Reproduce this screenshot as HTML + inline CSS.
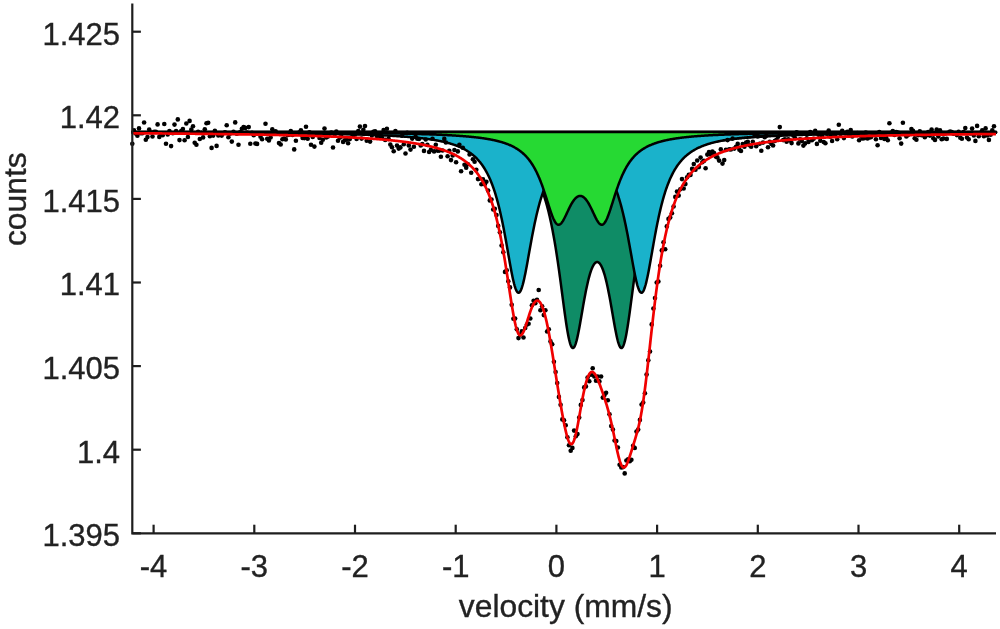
<!DOCTYPE html>
<html><head><meta charset="utf-8"><title>Mössbauer spectrum</title>
<style>
html,body{margin:0;padding:0;background:#fff;}
svg{display:block;}
text{font-family:"Liberation Sans",Arial,Helvetica,sans-serif;fill:#222;stroke:#222;stroke-width:0.35px;}
</style></head><body>
<svg width="1000" height="629" viewBox="0 0 1000 629">
<rect width="1000" height="629" fill="#fff"/>
<g><polygon points="132.30,131.90 132.30,132.47 132.80,132.47 133.30,132.47 133.80,132.47 134.30,132.47 134.80,132.47 135.30,132.47 135.80,132.47 136.30,132.48 136.80,132.48 137.30,132.48 137.80,132.48 138.30,132.48 138.80,132.48 139.30,132.48 139.80,132.48 140.30,132.49 140.80,132.49 141.30,132.49 141.80,132.49 142.30,132.49 142.80,132.49 143.30,132.49 143.80,132.49 144.30,132.50 144.80,132.50 145.30,132.50 145.80,132.50 146.30,132.50 146.79,132.50 147.29,132.50 147.79,132.51 148.29,132.51 148.79,132.51 149.29,132.51 149.79,132.51 150.29,132.51 150.79,132.51 151.29,132.51 151.79,132.52 152.29,132.52 152.79,132.52 153.29,132.52 153.79,132.52 154.29,132.52 154.79,132.52 155.29,132.53 155.79,132.53 156.29,132.53 156.79,132.53 157.29,132.53 157.79,132.53 158.29,132.53 158.79,132.54 159.29,132.54 159.79,132.54 160.29,132.54 160.79,132.54 161.29,132.54 161.79,132.55 162.29,132.55 162.79,132.55 163.29,132.55 163.79,132.55 164.29,132.55 164.79,132.55 165.29,132.56 165.79,132.56 166.29,132.56 166.79,132.56 167.29,132.56 167.79,132.56 168.29,132.57 168.79,132.57 169.29,132.57 169.79,132.57 170.29,132.57 170.79,132.57 171.29,132.57 171.79,132.58 172.29,132.58 172.79,132.58 173.29,132.58 173.79,132.58 174.29,132.58 174.79,132.59 175.29,132.59 175.78,132.59 176.28,132.59 176.78,132.59 177.28,132.59 177.78,132.60 178.28,132.60 178.78,132.60 179.28,132.60 179.78,132.60 180.28,132.60 180.78,132.61 181.28,132.61 181.78,132.61 182.28,132.61 182.78,132.61 183.28,132.61 183.78,132.62 184.28,132.62 184.78,132.62 185.28,132.62 185.78,132.62 186.28,132.63 186.78,132.63 187.28,132.63 187.78,132.63 188.28,132.63 188.78,132.63 189.28,132.64 189.78,132.64 190.28,132.64 190.78,132.64 191.28,132.64 191.78,132.65 192.28,132.65 192.78,132.65 193.28,132.65 193.78,132.65 194.28,132.65 194.78,132.66 195.28,132.66 195.78,132.66 196.28,132.66 196.78,132.66 197.28,132.67 197.78,132.67 198.28,132.67 198.78,132.67 199.28,132.67 199.78,132.68 200.28,132.68 200.78,132.68 201.28,132.68 201.78,132.68 202.28,132.69 202.78,132.69 203.28,132.69 203.78,132.69 204.27,132.69 204.77,132.70 205.27,132.70 205.77,132.70 206.27,132.70 206.77,132.70 207.27,132.71 207.77,132.71 208.27,132.71 208.77,132.71 209.27,132.71 209.77,132.72 210.27,132.72 210.77,132.72 211.27,132.72 211.77,132.73 212.27,132.73 212.77,132.73 213.27,132.73 213.77,132.73 214.27,132.74 214.77,132.74 215.27,132.74 215.77,132.74 216.27,132.75 216.77,132.75 217.27,132.75 217.77,132.75 218.27,132.75 218.77,132.76 219.27,132.76 219.77,132.76 220.27,132.76 220.77,132.77 221.27,132.77 221.77,132.77 222.27,132.77 222.77,132.78 223.27,132.78 223.77,132.78 224.27,132.78 224.77,132.78 225.27,132.79 225.77,132.79 226.27,132.79 226.77,132.79 227.27,132.80 227.77,132.80 228.27,132.80 228.77,132.80 229.27,132.81 229.77,132.81 230.27,132.81 230.77,132.81 231.27,132.82 231.77,132.82 232.27,132.82 232.77,132.82 233.26,132.83 233.76,132.83 234.26,132.83 234.76,132.83 235.26,132.84 235.76,132.84 236.26,132.84 236.76,132.85 237.26,132.85 237.76,132.85 238.26,132.85 238.76,132.86 239.26,132.86 239.76,132.86 240.26,132.86 240.76,132.87 241.26,132.87 241.76,132.87 242.26,132.87 242.76,132.88 243.26,132.88 243.76,132.88 244.26,132.89 244.76,132.89 245.26,132.89 245.76,132.89 246.26,132.90 246.76,132.90 247.26,132.90 247.76,132.91 248.26,132.91 248.76,132.91 249.26,132.92 249.76,132.92 250.26,132.92 250.76,132.92 251.26,132.93 251.76,132.93 252.26,132.93 252.76,132.94 253.26,132.94 253.76,132.94 254.26,132.95 254.76,132.95 255.26,132.95 255.76,132.95 256.26,132.96 256.76,132.96 257.26,132.96 257.76,132.97 258.26,132.97 258.76,132.97 259.26,132.98 259.76,132.98 260.26,132.98 260.76,132.99 261.26,132.99 261.76,132.99 262.25,133.00 262.75,133.00 263.25,133.00 263.75,133.01 264.25,133.01 264.75,133.01 265.25,133.02 265.75,133.02 266.25,133.02 266.75,133.03 267.25,133.03 267.75,133.03 268.25,133.04 268.75,133.04 269.25,133.04 269.75,133.05 270.25,133.05 270.75,133.06 271.25,133.06 271.75,133.06 272.25,133.07 272.75,133.07 273.25,133.07 273.75,133.08 274.25,133.08 274.75,133.08 275.25,133.09 275.75,133.09 276.25,133.10 276.75,133.10 277.25,133.10 277.75,133.11 278.25,133.11 278.75,133.11 279.25,133.12 279.75,133.12 280.25,133.13 280.75,133.13 281.25,133.13 281.75,133.14 282.25,133.14 282.75,133.15 283.25,133.15 283.75,133.15 284.25,133.16 284.75,133.16 285.25,133.17 285.75,133.17 286.25,133.18 286.75,133.18 287.25,133.18 287.75,133.19 288.25,133.19 288.75,133.20 289.25,133.20 289.75,133.20 290.25,133.21 290.74,133.21 291.24,133.22 291.74,133.22 292.24,133.23 292.74,133.23 293.24,133.24 293.74,133.24 294.24,133.24 294.74,133.25 295.24,133.25 295.74,133.26 296.24,133.26 296.74,133.27 297.24,133.27 297.74,133.28 298.24,133.28 298.74,133.29 299.24,133.29 299.74,133.30 300.24,133.30 300.74,133.30 301.24,133.31 301.74,133.31 302.24,133.32 302.74,133.32 303.24,133.33 303.74,133.33 304.24,133.34 304.74,133.34 305.24,133.35 305.74,133.35 306.24,133.36 306.74,133.36 307.24,133.37 307.74,133.37 308.24,133.38 308.74,133.39 309.24,133.39 309.74,133.40 310.24,133.40 310.74,133.41 311.24,133.41 311.74,133.42 312.24,133.42 312.74,133.43 313.24,133.43 313.74,133.44 314.24,133.44 314.74,133.45 315.24,133.46 315.74,133.46 316.24,133.47 316.74,133.47 317.24,133.48 317.74,133.48 318.24,133.49 318.74,133.50 319.24,133.50 319.73,133.51 320.23,133.51 320.73,133.52 321.23,133.53 321.73,133.53 322.23,133.54 322.73,133.54 323.23,133.55 323.73,133.56 324.23,133.56 324.73,133.57 325.23,133.57 325.73,133.58 326.23,133.59 326.73,133.59 327.23,133.60 327.73,133.61 328.23,133.61 328.73,133.62 329.23,133.63 329.73,133.63 330.23,133.64 330.73,133.65 331.23,133.65 331.73,133.66 332.23,133.67 332.73,133.67 333.23,133.68 333.73,133.69 334.23,133.69 334.73,133.70 335.23,133.71 335.73,133.72 336.23,133.72 336.73,133.73 337.23,133.74 337.73,133.74 338.23,133.75 338.73,133.76 339.23,133.77 339.73,133.77 340.23,133.78 340.73,133.79 341.23,133.80 341.73,133.80 342.23,133.81 342.73,133.82 343.23,133.83 343.73,133.83 344.23,133.84 344.73,133.85 345.23,133.86 345.73,133.87 346.23,133.87 346.73,133.88 347.23,133.89 347.73,133.90 348.23,133.91 348.72,133.91 349.22,133.92 349.72,133.93 350.22,133.94 350.72,133.95 351.22,133.96 351.72,133.97 352.22,133.97 352.72,133.98 353.22,133.99 353.72,134.00 354.22,134.01 354.72,134.02 355.22,134.03 355.72,134.04 356.22,134.05 356.72,134.05 357.22,134.06 357.72,134.07 358.22,134.08 358.72,134.09 359.22,134.10 359.72,134.11 360.22,134.12 360.72,134.13 361.22,134.14 361.72,134.15 362.22,134.16 362.72,134.17 363.22,134.18 363.72,134.19 364.22,134.20 364.72,134.21 365.22,134.22 365.72,134.23 366.22,134.24 366.72,134.25 367.22,134.26 367.72,134.27 368.22,134.28 368.72,134.29 369.22,134.30 369.72,134.32 370.22,134.33 370.72,134.34 371.22,134.35 371.72,134.36 372.22,134.37 372.72,134.38 373.22,134.39 373.72,134.41 374.22,134.42 374.72,134.43 375.22,134.44 375.72,134.45 376.22,134.46 376.72,134.48 377.21,134.49 377.71,134.50 378.21,134.51 378.71,134.52 379.21,134.54 379.71,134.55 380.21,134.56 380.71,134.57 381.21,134.59 381.71,134.60 382.21,134.61 382.71,134.63 383.21,134.64 383.71,134.65 384.21,134.67 384.71,134.68 385.21,134.69 385.71,134.71 386.21,134.72 386.71,134.73 387.21,134.75 387.71,134.76 388.21,134.78 388.71,134.79 389.21,134.81 389.71,134.82 390.21,134.83 390.71,134.85 391.21,134.86 391.71,134.88 392.21,134.89 392.71,134.91 393.21,134.92 393.71,134.94 394.21,134.96 394.71,134.97 395.21,134.99 395.71,135.00 396.21,135.02 396.71,135.04 397.21,135.05 397.71,135.07 398.21,135.08 398.71,135.10 399.21,135.12 399.71,135.14 400.21,135.15 400.71,135.17 401.21,135.19 401.71,135.20 402.21,135.22 402.71,135.24 403.21,135.26 403.71,135.28 404.21,135.29 404.71,135.31 405.21,135.33 405.71,135.35 406.20,135.37 406.70,135.39 407.20,135.41 407.70,135.43 408.20,135.45 408.70,135.46 409.20,135.48 409.70,135.50 410.20,135.52 410.70,135.54 411.20,135.57 411.70,135.59 412.20,135.61 412.70,135.63 413.20,135.65 413.70,135.67 414.20,135.69 414.70,135.71 415.20,135.74 415.70,135.76 416.20,135.78 416.70,135.80 417.20,135.83 417.70,135.85 418.20,135.87 418.70,135.89 419.20,135.92 419.70,135.94 420.20,135.97 420.70,135.99 421.20,136.01 421.70,136.04 422.20,136.06 422.70,136.09 423.20,136.11 423.70,136.14 424.20,136.17 424.70,136.19 425.20,136.22 425.70,136.24 426.20,136.27 426.70,136.30 427.20,136.32 427.70,136.35 428.20,136.38 428.70,136.41 429.20,136.44 429.70,136.46 430.20,136.49 430.70,136.52 431.20,136.55 431.70,136.58 432.20,136.61 432.70,136.64 433.20,136.67 433.70,136.70 434.20,136.73 434.69,136.77 435.19,136.80 435.69,136.83 436.19,136.86 436.69,136.89 437.19,136.93 437.69,136.96 438.19,136.99 438.69,137.03 439.19,137.06 439.69,137.10 440.19,137.13 440.69,137.17 441.19,137.20 441.69,137.24 442.19,137.28 442.69,137.31 443.19,137.35 443.69,137.39 444.19,137.43 444.69,137.47 445.19,137.51 445.69,137.54 446.19,137.58 446.69,137.62 447.19,137.67 447.69,137.71 448.19,137.75 448.69,137.79 449.19,137.83 449.69,137.88 450.19,137.92 450.69,137.96 451.19,138.01 451.69,138.05 452.19,138.10 452.69,138.14 453.19,138.19 453.69,138.24 454.19,138.28 454.69,138.33 455.19,138.38 455.69,138.43 456.19,138.48 456.69,138.53 457.19,138.58 457.69,138.63 458.19,138.68 458.69,138.74 459.19,138.79 459.69,138.84 460.19,138.90 460.69,138.95 461.19,139.01 461.69,139.07 462.19,139.12 462.69,139.18 463.19,139.24 463.68,139.30 464.18,139.36 464.68,139.42 465.18,139.48 465.68,139.55 466.18,139.61 466.68,139.67 467.18,139.74 467.68,139.80 468.18,139.87 468.68,139.94 469.18,140.01 469.68,140.08 470.18,140.15 470.68,140.22 471.18,140.29 471.68,140.36 472.18,140.44 472.68,140.51 473.18,140.59 473.68,140.66 474.18,140.74 474.68,140.82 475.18,140.90 475.68,140.98 476.18,141.06 476.68,141.15 477.18,141.23 477.68,141.32 478.18,141.41 478.68,141.49 479.18,141.58 479.68,141.67 480.18,141.77 480.68,141.86 481.18,141.95 481.68,142.05 482.18,142.15 482.68,142.25 483.18,142.35 483.68,142.45 484.18,142.55 484.68,142.66 485.18,142.77 485.68,142.87 486.18,142.98 486.68,143.10 487.18,143.21 487.68,143.33 488.18,143.44 488.68,143.56 489.18,143.68 489.68,143.80 490.18,143.93 490.68,144.06 491.18,144.18 491.68,144.32 492.17,144.45 492.67,144.58 493.17,144.72 493.67,144.86 494.17,145.00 494.67,145.15 495.17,145.29 495.67,145.44 496.17,145.59 496.67,145.75 497.17,145.91 497.67,146.07 498.17,146.23 498.67,146.39 499.17,146.56 499.67,146.73 500.17,146.91 500.67,147.09 501.17,147.27 501.67,147.45 502.17,147.64 502.67,147.83 503.17,148.03 503.67,148.22 504.17,148.43 504.67,148.63 505.17,148.84 505.67,149.06 506.17,149.27 506.67,149.50 507.17,149.72 507.67,149.95 508.17,150.19 508.67,150.43 509.17,150.68 509.67,150.93 510.17,151.18 510.67,151.44 511.17,151.71 511.67,151.98 512.17,152.26 512.67,152.54 513.17,152.83 513.67,153.12 514.17,153.43 514.67,153.73 515.17,154.05 515.67,154.37 516.17,154.70 516.67,155.04 517.17,155.38 517.67,155.73 518.17,156.09 518.67,156.46 519.17,156.84 519.67,157.22 520.17,157.61 520.67,158.02 521.16,158.43 521.66,158.85 522.16,159.29 522.66,159.73 523.16,160.19 523.66,160.65 524.16,161.13 524.66,161.62 525.16,162.12 525.66,162.64 526.16,163.17 526.66,163.71 527.16,164.26 527.66,164.83 528.16,165.42 528.66,166.02 529.16,166.64 529.66,167.27 530.16,167.92 530.66,168.59 531.16,169.28 531.66,169.99 532.16,170.71 532.66,171.46 533.16,172.23 533.66,173.02 534.16,173.83 534.66,174.67 535.16,175.53 535.66,176.42 536.16,177.33 536.66,178.27 537.16,179.24 537.66,180.24 538.16,181.27 538.66,182.33 539.16,183.42 539.66,184.55 540.16,185.71 540.66,186.91 541.16,188.14 541.66,189.42 542.16,190.74 542.66,192.09 543.16,193.50 543.66,194.95 544.16,196.44 544.66,197.98 545.16,199.58 545.66,201.22 546.16,202.92 546.66,204.68 547.16,206.49 547.66,208.37 548.16,210.30 548.66,212.30 549.16,214.36 549.66,216.49 550.15,218.69 550.65,220.96 551.15,223.30 551.65,225.72 552.15,228.21 552.65,230.78 553.15,233.43 553.65,236.16 554.15,238.97 554.65,241.85 555.15,244.82 555.65,247.88 556.15,251.01 556.65,254.22 557.15,257.51 557.65,260.87 558.15,264.31 558.65,267.81 559.15,271.38 559.65,275.01 560.15,278.69 560.65,282.42 561.15,286.18 561.65,289.97 562.15,293.77 562.65,297.57 563.15,301.37 563.65,305.14 564.15,308.86 564.65,312.53 565.15,316.12 565.65,319.62 566.15,323.00 566.65,326.25 567.15,329.34 567.65,332.25 568.15,334.97 568.65,337.48 569.15,339.75 569.65,341.78 570.15,343.54 570.65,345.02 571.15,346.22 571.65,347.12 572.15,347.73 572.65,348.03 573.15,348.04 573.65,347.75 574.15,347.17 574.65,346.32 575.15,345.19 575.65,343.82 576.15,342.21 576.65,340.38 577.15,338.35 577.65,336.15 578.15,333.79 578.64,331.29 579.14,328.67 579.64,325.97 580.14,323.18 580.64,320.34 581.14,317.47 581.64,314.57 582.14,311.67 582.64,308.78 583.14,305.91 583.64,303.08 584.14,300.30 584.64,297.58 585.14,294.93 585.64,292.35 586.14,289.86 586.64,287.45 587.14,285.14 587.64,282.92 588.14,280.81 588.64,278.80 589.14,276.90 589.64,275.12 590.14,273.44 590.64,271.87 591.14,270.42 591.64,269.09 592.14,267.86 592.64,266.76 593.14,265.77 593.64,264.90 594.14,264.14 594.64,263.50 595.14,262.97 595.64,262.56 596.14,262.27 596.64,262.09 597.14,262.03 597.64,262.08 598.14,262.25 598.64,262.53 599.14,262.93 599.64,263.45 600.14,264.08 600.64,264.83 601.14,265.70 601.64,266.68 602.14,267.77 602.64,268.98 603.14,270.31 603.64,271.75 604.14,273.31 604.64,274.98 605.14,276.76 605.64,278.65 606.14,280.65 606.64,282.75 607.14,284.96 607.63,287.26 608.13,289.66 608.63,292.15 609.13,294.72 609.63,297.37 610.13,300.09 610.63,302.86 611.13,305.69 611.63,308.55 612.13,311.44 612.63,314.34 613.13,317.24 613.63,320.12 614.13,322.96 614.63,325.75 615.13,328.46 615.63,331.09 616.13,333.59 616.63,335.97 617.13,338.19 617.63,340.23 618.13,342.07 618.63,343.70 619.13,345.09 619.63,346.24 620.13,347.11 620.63,347.71 621.13,348.03 621.63,348.05 622.13,347.76 622.63,347.18 623.13,346.30 623.63,345.13 624.13,343.66 624.63,341.93 625.13,339.92 625.63,337.67 626.13,335.18 626.63,332.48 627.13,329.58 627.63,326.50 628.13,323.27 628.63,319.89 629.13,316.41 629.63,312.82 630.13,309.16 630.63,305.43 631.13,301.67 631.63,297.87 632.13,294.07 632.63,290.27 633.13,286.48 633.63,282.71 634.13,278.99 634.63,275.30 635.13,271.67 635.63,268.09 636.12,264.58 636.62,261.14 637.12,257.77 637.62,254.48 638.12,251.26 638.62,248.12 639.12,245.06 639.62,242.09 640.12,239.19 640.62,236.38 641.12,233.64 641.62,230.99 642.12,228.41 642.62,225.91 643.12,223.49 643.62,221.14 644.12,218.87 644.62,216.66 645.12,214.53 645.62,212.46 646.12,210.46 646.62,208.52 647.12,206.64 647.62,204.82 648.12,203.06 648.62,201.36 649.12,199.71 649.62,198.11 650.12,196.56 650.62,195.06 651.12,193.61 651.62,192.20 652.12,190.84 652.62,189.52 653.12,188.24 653.62,187.00 654.12,185.80 654.62,184.64 655.12,183.51 655.62,182.41 656.12,181.35 656.62,180.32 657.12,179.32 657.62,178.35 658.12,177.40 658.62,176.49 659.12,175.60 659.62,174.74 660.12,173.90 660.62,173.08 661.12,172.29 661.62,171.52 662.12,170.77 662.62,170.04 663.12,169.33 663.62,168.65 664.12,167.98 664.62,167.32 665.11,166.69 665.61,166.07 666.11,165.47 666.61,164.88 667.11,164.31 667.61,163.75 668.11,163.21 668.61,162.68 669.11,162.16 669.61,161.66 670.11,161.17 670.61,160.69 671.11,160.22 671.61,159.77 672.11,159.32 672.61,158.89 673.11,158.46 673.61,158.05 674.11,157.65 674.61,157.25 675.11,156.87 675.61,156.49 676.11,156.12 676.61,155.76 677.11,155.41 677.61,155.06 678.11,154.73 678.61,154.40 679.11,154.07 679.61,153.76 680.11,153.45 680.61,153.15 681.11,152.85 681.61,152.56 682.11,152.28 682.61,152.00 683.11,151.73 683.61,151.46 684.11,151.20 684.61,150.95 685.11,150.69 685.61,150.45 686.11,150.21 686.61,149.97 687.11,149.74 687.61,149.51 688.11,149.29 688.61,149.07 689.11,148.86 689.61,148.65 690.11,148.44 690.61,148.24 691.11,148.04 691.61,147.85 692.11,147.65 692.61,147.47 693.11,147.28 693.61,147.10 694.10,146.92 694.60,146.75 695.10,146.58 695.60,146.41 696.10,146.24 696.60,146.08 697.10,145.92 697.60,145.76 698.10,145.61 698.60,145.45 699.10,145.31 699.60,145.16 700.10,145.01 700.60,144.87 701.10,144.73 701.60,144.59 702.10,144.46 702.60,144.33 703.10,144.19 703.60,144.07 704.10,143.94 704.60,143.81 705.10,143.69 705.60,143.57 706.10,143.45 706.60,143.33 707.10,143.22 707.60,143.11 708.10,142.99 708.60,142.88 709.10,142.77 709.60,142.67 710.10,142.56 710.60,142.46 711.10,142.36 711.60,142.26 712.10,142.16 712.60,142.06 713.10,141.96 713.60,141.87 714.10,141.77 714.60,141.68 715.10,141.59 715.60,141.50 716.10,141.41 716.60,141.33 717.10,141.24 717.60,141.15 718.10,141.07 718.60,140.99 719.10,140.91 719.60,140.83 720.10,140.75 720.60,140.67 721.10,140.59 721.60,140.52 722.10,140.44 722.59,140.37 723.09,140.29 723.59,140.22 724.09,140.15 724.59,140.08 725.09,140.01 725.59,139.94 726.09,139.88 726.59,139.81 727.09,139.74 727.59,139.68 728.09,139.61 728.59,139.55 729.09,139.49 729.59,139.43 730.09,139.37 730.59,139.31 731.09,139.25 731.59,139.19 732.09,139.13 732.59,139.07 733.09,139.02 733.59,138.96 734.09,138.90 734.59,138.85 735.09,138.80 735.59,138.74 736.09,138.69 736.59,138.64 737.09,138.59 737.59,138.53 738.09,138.48 738.59,138.43 739.09,138.38 739.59,138.34 740.09,138.29 740.59,138.24 741.09,138.19 741.59,138.15 742.09,138.10 742.59,138.06 743.09,138.01 743.59,137.97 744.09,137.92 744.59,137.88 745.09,137.84 745.59,137.79 746.09,137.75 746.59,137.71 747.09,137.67 747.59,137.63 748.09,137.59 748.59,137.55 749.09,137.51 749.59,137.47 750.09,137.43 750.59,137.39 751.09,137.35 751.58,137.32 752.08,137.28 752.58,137.24 753.08,137.21 753.58,137.17 754.08,137.14 754.58,137.10 755.08,137.07 755.58,137.03 756.08,137.00 756.58,136.96 757.08,136.93 757.58,136.90 758.08,136.86 758.58,136.83 759.08,136.80 759.58,136.77 760.08,136.74 760.58,136.71 761.08,136.67 761.58,136.64 762.08,136.61 762.58,136.58 763.08,136.55 763.58,136.52 764.08,136.50 764.58,136.47 765.08,136.44 765.58,136.41 766.08,136.38 766.58,136.35 767.08,136.33 767.58,136.30 768.08,136.27 768.58,136.25 769.08,136.22 769.58,136.19 770.08,136.17 770.58,136.14 771.08,136.12 771.58,136.09 772.08,136.07 772.58,136.04 773.08,136.02 773.58,135.99 774.08,135.97 774.58,135.94 775.08,135.92 775.58,135.90 776.08,135.87 776.58,135.85 777.08,135.83 777.58,135.80 778.08,135.78 778.58,135.76 779.08,135.74 779.58,135.72 780.07,135.69 780.57,135.67 781.07,135.65 781.57,135.63 782.07,135.61 782.57,135.59 783.07,135.57 783.57,135.55 784.07,135.53 784.57,135.51 785.07,135.49 785.57,135.47 786.07,135.45 786.57,135.43 787.07,135.41 787.57,135.39 788.07,135.37 788.57,135.35 789.07,135.33 789.57,135.31 790.07,135.30 790.57,135.28 791.07,135.26 791.57,135.24 792.07,135.22 792.57,135.21 793.07,135.19 793.57,135.17 794.07,135.15 794.57,135.14 795.07,135.12 795.57,135.10 796.07,135.09 796.57,135.07 797.07,135.05 797.57,135.04 798.07,135.02 798.57,135.00 799.07,134.99 799.57,134.97 800.07,134.96 800.57,134.94 801.07,134.93 801.57,134.91 802.07,134.90 802.57,134.88 803.07,134.87 803.57,134.85 804.07,134.84 804.57,134.82 805.07,134.81 805.57,134.79 806.07,134.78 806.57,134.76 807.07,134.75 807.57,134.74 808.07,134.72 808.57,134.71 809.06,134.69 809.56,134.68 810.06,134.67 810.56,134.65 811.06,134.64 811.56,134.63 812.06,134.61 812.56,134.60 813.06,134.59 813.56,134.58 814.06,134.56 814.56,134.55 815.06,134.54 815.56,134.53 816.06,134.51 816.56,134.50 817.06,134.49 817.56,134.48 818.06,134.46 818.56,134.45 819.06,134.44 819.56,134.43 820.06,134.42 820.56,134.41 821.06,134.39 821.56,134.38 822.06,134.37 822.56,134.36 823.06,134.35 823.56,134.34 824.06,134.33 824.56,134.32 825.06,134.31 825.56,134.29 826.06,134.28 826.56,134.27 827.06,134.26 827.56,134.25 828.06,134.24 828.56,134.23 829.06,134.22 829.56,134.21 830.06,134.20 830.56,134.19 831.06,134.18 831.56,134.17 832.06,134.16 832.56,134.15 833.06,134.14 833.56,134.13 834.06,134.12 834.56,134.11 835.06,134.10 835.56,134.09 836.06,134.08 836.56,134.07 837.06,134.06 837.56,134.06 838.05,134.05 838.55,134.04 839.05,134.03 839.55,134.02 840.05,134.01 840.55,134.00 841.05,133.99 841.55,133.98 842.05,133.97 842.55,133.97 843.05,133.96 843.55,133.95 844.05,133.94 844.55,133.93 845.05,133.92 845.55,133.92 846.05,133.91 846.55,133.90 847.05,133.89 847.55,133.88 848.05,133.87 848.55,133.87 849.05,133.86 849.55,133.85 850.05,133.84 850.55,133.83 851.05,133.83 851.55,133.82 852.05,133.81 852.55,133.80 853.05,133.80 853.55,133.79 854.05,133.78 854.55,133.77 855.05,133.77 855.55,133.76 856.05,133.75 856.55,133.74 857.05,133.74 857.55,133.73 858.05,133.72 858.55,133.72 859.05,133.71 859.55,133.70 860.05,133.69 860.55,133.69 861.05,133.68 861.55,133.67 862.05,133.67 862.55,133.66 863.05,133.65 863.55,133.65 864.05,133.64 864.55,133.63 865.05,133.63 865.55,133.62 866.05,133.61 866.54,133.61 867.04,133.60 867.54,133.59 868.04,133.59 868.54,133.58 869.04,133.58 869.54,133.57 870.04,133.56 870.54,133.56 871.04,133.55 871.54,133.54 872.04,133.54 872.54,133.53 873.04,133.53 873.54,133.52 874.04,133.51 874.54,133.51 875.04,133.50 875.54,133.50 876.04,133.49 876.54,133.48 877.04,133.48 877.54,133.47 878.04,133.47 878.54,133.46 879.04,133.46 879.54,133.45 880.04,133.45 880.54,133.44 881.04,133.43 881.54,133.43 882.04,133.42 882.54,133.42 883.04,133.41 883.54,133.41 884.04,133.40 884.54,133.40 885.04,133.39 885.54,133.39 886.04,133.38 886.54,133.38 887.04,133.37 887.54,133.37 888.04,133.36 888.54,133.35 889.04,133.35 889.54,133.34 890.04,133.34 890.54,133.33 891.04,133.33 891.54,133.32 892.04,133.32 892.54,133.32 893.04,133.31 893.54,133.31 894.04,133.30 894.54,133.30 895.04,133.29 895.53,133.29 896.03,133.28 896.53,133.28 897.03,133.27 897.53,133.27 898.03,133.26 898.53,133.26 899.03,133.25 899.53,133.25 900.03,133.24 900.53,133.24 901.03,133.24 901.53,133.23 902.03,133.23 902.53,133.22 903.03,133.22 903.53,133.21 904.03,133.21 904.53,133.21 905.03,133.20 905.53,133.20 906.03,133.19 906.53,133.19 907.03,133.18 907.53,133.18 908.03,133.18 908.53,133.17 909.03,133.17 909.53,133.16 910.03,133.16 910.53,133.15 911.03,133.15 911.53,133.15 912.03,133.14 912.53,133.14 913.03,133.13 913.53,133.13 914.03,133.13 914.53,133.12 915.03,133.12 915.53,133.12 916.03,133.11 916.53,133.11 917.03,133.10 917.53,133.10 918.03,133.10 918.53,133.09 919.03,133.09 919.53,133.08 920.03,133.08 920.53,133.08 921.03,133.07 921.53,133.07 922.03,133.07 922.53,133.06 923.03,133.06 923.53,133.06 924.02,133.05 924.52,133.05 925.02,133.04 925.52,133.04 926.02,133.04 926.52,133.03 927.02,133.03 927.52,133.03 928.02,133.02 928.52,133.02 929.02,133.02 929.52,133.01 930.02,133.01 930.52,133.01 931.02,133.00 931.52,133.00 932.02,133.00 932.52,132.99 933.02,132.99 933.52,132.99 934.02,132.98 934.52,132.98 935.02,132.98 935.52,132.97 936.02,132.97 936.52,132.97 937.02,132.96 937.52,132.96 938.02,132.96 938.52,132.95 939.02,132.95 939.52,132.95 940.02,132.95 940.52,132.94 941.02,132.94 941.52,132.94 942.02,132.93 942.52,132.93 943.02,132.93 943.52,132.92 944.02,132.92 944.52,132.92 945.02,132.92 945.52,132.91 946.02,132.91 946.52,132.91 947.02,132.90 947.52,132.90 948.02,132.90 948.52,132.89 949.02,132.89 949.52,132.89 950.02,132.89 950.52,132.88 951.02,132.88 951.52,132.88 952.02,132.88 952.52,132.87 953.01,132.87 953.51,132.87 954.01,132.86 954.51,132.86 955.01,132.86 955.51,132.86 956.01,132.85 956.51,132.85 957.01,132.85 957.51,132.85 958.01,132.84 958.51,132.84 959.01,132.84 959.51,132.83 960.01,132.83 960.51,132.83 961.01,132.83 961.51,132.82 962.01,132.82 962.51,132.82 963.01,132.82 963.51,132.81 964.01,132.81 964.51,132.81 965.01,132.81 965.51,132.80 966.01,132.80 966.51,132.80 967.01,132.80 967.51,132.79 968.01,132.79 968.51,132.79 969.01,132.79 969.51,132.78 970.01,132.78 970.51,132.78 971.01,132.78 971.51,132.78 972.01,132.77 972.51,132.77 973.01,132.77 973.51,132.77 974.01,132.76 974.51,132.76 975.01,132.76 975.51,132.76 976.01,132.75 976.51,132.75 977.01,132.75 977.51,132.75 978.01,132.75 978.51,132.74 979.01,132.74 979.51,132.74 980.01,132.74 980.51,132.73 981.01,132.73 981.51,132.73 982.00,132.73 982.50,132.73 983.00,132.72 983.50,132.72 984.00,132.72 984.50,132.72 985.00,132.71 985.50,132.71 986.00,132.71 986.50,132.71 987.00,132.71 987.50,132.70 988.00,132.70 988.50,132.70 989.00,132.70 989.50,132.70 990.00,132.69 990.50,132.69 991.00,132.69 991.50,132.69 992.00,132.69 992.50,132.68 993.00,132.68 993.50,132.68 994.00,132.68 994.50,132.68 995.00,132.67 995.50,132.67 996.00,132.67 996.00,131.90" fill="#0f8c66" stroke="#000" stroke-width="2.5" stroke-linejoin="round"/>
<polygon points="132.30,131.90 132.30,132.44 132.80,132.44 133.30,132.44 133.80,132.44 134.30,132.44 134.80,132.45 135.30,132.45 135.80,132.45 136.30,132.45 136.80,132.45 137.30,132.45 137.80,132.45 138.30,132.46 138.80,132.46 139.30,132.46 139.80,132.46 140.30,132.46 140.80,132.46 141.30,132.46 141.80,132.46 142.30,132.47 142.80,132.47 143.30,132.47 143.80,132.47 144.30,132.47 144.80,132.47 145.30,132.47 145.80,132.48 146.30,132.48 146.79,132.48 147.29,132.48 147.79,132.48 148.29,132.48 148.79,132.48 149.29,132.49 149.79,132.49 150.29,132.49 150.79,132.49 151.29,132.49 151.79,132.49 152.29,132.49 152.79,132.50 153.29,132.50 153.79,132.50 154.29,132.50 154.79,132.50 155.29,132.50 155.79,132.51 156.29,132.51 156.79,132.51 157.29,132.51 157.79,132.51 158.29,132.51 158.79,132.51 159.29,132.52 159.79,132.52 160.29,132.52 160.79,132.52 161.29,132.52 161.79,132.52 162.29,132.53 162.79,132.53 163.29,132.53 163.79,132.53 164.29,132.53 164.79,132.53 165.29,132.53 165.79,132.54 166.29,132.54 166.79,132.54 167.29,132.54 167.79,132.54 168.29,132.54 168.79,132.55 169.29,132.55 169.79,132.55 170.29,132.55 170.79,132.55 171.29,132.55 171.79,132.56 172.29,132.56 172.79,132.56 173.29,132.56 173.79,132.56 174.29,132.57 174.79,132.57 175.29,132.57 175.78,132.57 176.28,132.57 176.78,132.57 177.28,132.58 177.78,132.58 178.28,132.58 178.78,132.58 179.28,132.58 179.78,132.58 180.28,132.59 180.78,132.59 181.28,132.59 181.78,132.59 182.28,132.59 182.78,132.60 183.28,132.60 183.78,132.60 184.28,132.60 184.78,132.60 185.28,132.61 185.78,132.61 186.28,132.61 186.78,132.61 187.28,132.61 187.78,132.62 188.28,132.62 188.78,132.62 189.28,132.62 189.78,132.62 190.28,132.63 190.78,132.63 191.28,132.63 191.78,132.63 192.28,132.63 192.78,132.64 193.28,132.64 193.78,132.64 194.28,132.64 194.78,132.64 195.28,132.65 195.78,132.65 196.28,132.65 196.78,132.65 197.28,132.65 197.78,132.66 198.28,132.66 198.78,132.66 199.28,132.66 199.78,132.66 200.28,132.67 200.78,132.67 201.28,132.67 201.78,132.67 202.28,132.68 202.78,132.68 203.28,132.68 203.78,132.68 204.27,132.68 204.77,132.69 205.27,132.69 205.77,132.69 206.27,132.69 206.77,132.70 207.27,132.70 207.77,132.70 208.27,132.70 208.77,132.71 209.27,132.71 209.77,132.71 210.27,132.71 210.77,132.71 211.27,132.72 211.77,132.72 212.27,132.72 212.77,132.72 213.27,132.73 213.77,132.73 214.27,132.73 214.77,132.73 215.27,132.74 215.77,132.74 216.27,132.74 216.77,132.74 217.27,132.75 217.77,132.75 218.27,132.75 218.77,132.75 219.27,132.76 219.77,132.76 220.27,132.76 220.77,132.76 221.27,132.77 221.77,132.77 222.27,132.77 222.77,132.77 223.27,132.78 223.77,132.78 224.27,132.78 224.77,132.79 225.27,132.79 225.77,132.79 226.27,132.79 226.77,132.80 227.27,132.80 227.77,132.80 228.27,132.80 228.77,132.81 229.27,132.81 229.77,132.81 230.27,132.82 230.77,132.82 231.27,132.82 231.77,132.82 232.27,132.83 232.77,132.83 233.26,132.83 233.76,132.84 234.26,132.84 234.76,132.84 235.26,132.85 235.76,132.85 236.26,132.85 236.76,132.85 237.26,132.86 237.76,132.86 238.26,132.86 238.76,132.87 239.26,132.87 239.76,132.87 240.26,132.88 240.76,132.88 241.26,132.88 241.76,132.89 242.26,132.89 242.76,132.89 243.26,132.90 243.76,132.90 244.26,132.90 244.76,132.91 245.26,132.91 245.76,132.91 246.26,132.92 246.76,132.92 247.26,132.92 247.76,132.93 248.26,132.93 248.76,132.93 249.26,132.94 249.76,132.94 250.26,132.94 250.76,132.95 251.26,132.95 251.76,132.95 252.26,132.96 252.76,132.96 253.26,132.96 253.76,132.97 254.26,132.97 254.76,132.97 255.26,132.98 255.76,132.98 256.26,132.99 256.76,132.99 257.26,132.99 257.76,133.00 258.26,133.00 258.76,133.00 259.26,133.01 259.76,133.01 260.26,133.02 260.76,133.02 261.26,133.02 261.76,133.03 262.25,133.03 262.75,133.04 263.25,133.04 263.75,133.04 264.25,133.05 264.75,133.05 265.25,133.06 265.75,133.06 266.25,133.06 266.75,133.07 267.25,133.07 267.75,133.08 268.25,133.08 268.75,133.08 269.25,133.09 269.75,133.09 270.25,133.10 270.75,133.10 271.25,133.11 271.75,133.11 272.25,133.11 272.75,133.12 273.25,133.12 273.75,133.13 274.25,133.13 274.75,133.14 275.25,133.14 275.75,133.15 276.25,133.15 276.75,133.16 277.25,133.16 277.75,133.16 278.25,133.17 278.75,133.17 279.25,133.18 279.75,133.18 280.25,133.19 280.75,133.19 281.25,133.20 281.75,133.20 282.25,133.21 282.75,133.21 283.25,133.22 283.75,133.22 284.25,133.23 284.75,133.23 285.25,133.24 285.75,133.24 286.25,133.25 286.75,133.25 287.25,133.26 287.75,133.26 288.25,133.27 288.75,133.27 289.25,133.28 289.75,133.29 290.25,133.29 290.74,133.30 291.24,133.30 291.74,133.31 292.24,133.31 292.74,133.32 293.24,133.32 293.74,133.33 294.24,133.34 294.74,133.34 295.24,133.35 295.74,133.35 296.24,133.36 296.74,133.36 297.24,133.37 297.74,133.38 298.24,133.38 298.74,133.39 299.24,133.39 299.74,133.40 300.24,133.41 300.74,133.41 301.24,133.42 301.74,133.42 302.24,133.43 302.74,133.44 303.24,133.44 303.74,133.45 304.24,133.46 304.74,133.46 305.24,133.47 305.74,133.48 306.24,133.48 306.74,133.49 307.24,133.50 307.74,133.50 308.24,133.51 308.74,133.52 309.24,133.52 309.74,133.53 310.24,133.54 310.74,133.54 311.24,133.55 311.74,133.56 312.24,133.57 312.74,133.57 313.24,133.58 313.74,133.59 314.24,133.59 314.74,133.60 315.24,133.61 315.74,133.62 316.24,133.62 316.74,133.63 317.24,133.64 317.74,133.65 318.24,133.66 318.74,133.66 319.24,133.67 319.73,133.68 320.23,133.69 320.73,133.69 321.23,133.70 321.73,133.71 322.23,133.72 322.73,133.73 323.23,133.74 323.73,133.74 324.23,133.75 324.73,133.76 325.23,133.77 325.73,133.78 326.23,133.79 326.73,133.80 327.23,133.80 327.73,133.81 328.23,133.82 328.73,133.83 329.23,133.84 329.73,133.85 330.23,133.86 330.73,133.87 331.23,133.88 331.73,133.89 332.23,133.90 332.73,133.91 333.23,133.92 333.73,133.92 334.23,133.93 334.73,133.94 335.23,133.95 335.73,133.96 336.23,133.97 336.73,133.98 337.23,133.99 337.73,134.00 338.23,134.02 338.73,134.03 339.23,134.04 339.73,134.05 340.23,134.06 340.73,134.07 341.23,134.08 341.73,134.09 342.23,134.10 342.73,134.11 343.23,134.12 343.73,134.13 344.23,134.15 344.73,134.16 345.23,134.17 345.73,134.18 346.23,134.19 346.73,134.20 347.23,134.22 347.73,134.23 348.23,134.24 348.72,134.25 349.22,134.26 349.72,134.28 350.22,134.29 350.72,134.30 351.22,134.31 351.72,134.33 352.22,134.34 352.72,134.35 353.22,134.37 353.72,134.38 354.22,134.39 354.72,134.41 355.22,134.42 355.72,134.43 356.22,134.45 356.72,134.46 357.22,134.48 357.72,134.49 358.22,134.50 358.72,134.52 359.22,134.53 359.72,134.55 360.22,134.56 360.72,134.58 361.22,134.59 361.72,134.61 362.22,134.62 362.72,134.64 363.22,134.65 363.72,134.67 364.22,134.69 364.72,134.70 365.22,134.72 365.72,134.73 366.22,134.75 366.72,134.77 367.22,134.78 367.72,134.80 368.22,134.82 368.72,134.84 369.22,134.85 369.72,134.87 370.22,134.89 370.72,134.91 371.22,134.92 371.72,134.94 372.22,134.96 372.72,134.98 373.22,135.00 373.72,135.02 374.22,135.04 374.72,135.06 375.22,135.07 375.72,135.09 376.22,135.11 376.72,135.13 377.21,135.15 377.71,135.17 378.21,135.20 378.71,135.22 379.21,135.24 379.71,135.26 380.21,135.28 380.71,135.30 381.21,135.32 381.71,135.35 382.21,135.37 382.71,135.39 383.21,135.41 383.71,135.44 384.21,135.46 384.71,135.48 385.21,135.51 385.71,135.53 386.21,135.56 386.71,135.58 387.21,135.60 387.71,135.63 388.21,135.65 388.71,135.68 389.21,135.71 389.71,135.73 390.21,135.76 390.71,135.79 391.21,135.81 391.71,135.84 392.21,135.87 392.71,135.89 393.21,135.92 393.71,135.95 394.21,135.98 394.71,136.01 395.21,136.04 395.71,136.07 396.21,136.10 396.71,136.13 397.21,136.16 397.71,136.19 398.21,136.22 398.71,136.25 399.21,136.29 399.71,136.32 400.21,136.35 400.71,136.39 401.21,136.42 401.71,136.45 402.21,136.49 402.71,136.52 403.21,136.56 403.71,136.59 404.21,136.63 404.71,136.67 405.21,136.70 405.71,136.74 406.20,136.78 406.70,136.82 407.20,136.86 407.70,136.90 408.20,136.94 408.70,136.98 409.20,137.02 409.70,137.06 410.20,137.10 410.70,137.14 411.20,137.19 411.70,137.23 412.20,137.27 412.70,137.32 413.20,137.36 413.70,137.41 414.20,137.46 414.70,137.50 415.20,137.55 415.70,137.60 416.20,137.65 416.70,137.70 417.20,137.75 417.70,137.80 418.20,137.85 418.70,137.91 419.20,137.96 419.70,138.01 420.20,138.07 420.70,138.12 421.20,138.18 421.70,138.24 422.20,138.29 422.70,138.35 423.20,138.41 423.70,138.47 424.20,138.53 424.70,138.60 425.20,138.66 425.70,138.72 426.20,138.79 426.70,138.85 427.20,138.92 427.70,138.99 428.20,139.06 428.70,139.13 429.20,139.20 429.70,139.27 430.20,139.34 430.70,139.42 431.20,139.49 431.70,139.57 432.20,139.65 432.70,139.73 433.20,139.81 433.70,139.89 434.20,139.97 434.69,140.06 435.19,140.14 435.69,140.23 436.19,140.32 436.69,140.41 437.19,140.50 437.69,140.60 438.19,140.69 438.69,140.79 439.19,140.89 439.69,140.99 440.19,141.09 440.69,141.19 441.19,141.30 441.69,141.40 442.19,141.51 442.69,141.62 443.19,141.73 443.69,141.85 444.19,141.97 444.69,142.08 445.19,142.21 445.69,142.33 446.19,142.45 446.69,142.58 447.19,142.71 447.69,142.85 448.19,142.98 448.69,143.12 449.19,143.26 449.69,143.40 450.19,143.55 450.69,143.70 451.19,143.85 451.69,144.01 452.19,144.16 452.69,144.33 453.19,144.49 453.69,144.66 454.19,144.83 454.69,145.00 455.19,145.18 455.69,145.37 456.19,145.55 456.69,145.74 457.19,145.94 457.69,146.13 458.19,146.34 458.69,146.54 459.19,146.76 459.69,146.97 460.19,147.19 460.69,147.42 461.19,147.65 461.69,147.89 462.19,148.13 462.69,148.38 463.19,148.63 463.68,148.89 464.18,149.15 464.68,149.43 465.18,149.70 465.68,149.99 466.18,150.28 466.68,150.58 467.18,150.89 467.68,151.20 468.18,151.52 468.68,151.85 469.18,152.19 469.68,152.53 470.18,152.89 470.68,153.25 471.18,153.63 471.68,154.01 472.18,154.41 472.68,154.81 473.18,155.23 473.68,155.65 474.18,156.09 474.68,156.54 475.18,157.00 475.68,157.48 476.18,157.97 476.68,158.47 477.18,158.98 477.68,159.52 478.18,160.06 478.68,160.62 479.18,161.20 479.68,161.80 480.18,162.41 480.68,163.04 481.18,163.69 481.68,164.36 482.18,165.05 482.68,165.77 483.18,166.50 483.68,167.26 484.18,168.03 484.68,168.84 485.18,169.67 485.68,170.52 486.18,171.40 486.68,172.31 487.18,173.25 487.68,174.22 488.18,175.22 488.68,176.26 489.18,177.32 489.68,178.43 490.18,179.56 490.68,180.74 491.18,181.95 491.68,183.21 492.17,184.50 492.67,185.84 493.17,187.22 493.67,188.65 494.17,190.13 494.67,191.65 495.17,193.22 495.67,194.85 496.17,196.52 496.67,198.25 497.17,200.04 497.67,201.88 498.17,203.78 498.67,205.74 499.17,207.76 499.67,209.83 500.17,211.97 500.67,214.17 501.17,216.43 501.67,218.75 502.17,221.12 502.67,223.56 503.17,226.06 503.67,228.61 504.17,231.21 504.67,233.87 505.17,236.57 505.67,239.31 506.17,242.09 506.67,244.90 507.17,247.73 507.67,250.58 508.17,253.44 508.67,256.30 509.17,259.14 509.67,261.96 510.17,264.75 510.67,267.48 511.17,270.16 511.67,272.75 512.17,275.26 512.67,277.65 513.17,279.93 513.67,282.06 514.17,284.04 514.67,285.85 515.17,287.48 515.67,288.91 516.17,290.13 516.67,291.13 517.17,291.90 517.67,292.44 518.17,292.75 518.67,292.81 519.17,292.63 519.67,292.20 520.17,291.55 520.67,290.66 521.16,289.55 521.66,288.24 522.16,286.72 522.66,285.01 523.16,283.13 523.66,281.09 524.16,278.91 524.66,276.60 525.16,274.18 525.66,271.66 526.16,269.06 526.66,266.40 527.16,263.68 527.66,260.92 528.16,258.13 528.66,255.33 529.16,252.53 529.66,249.73 530.16,246.95 530.66,244.19 531.16,241.45 531.66,238.76 532.16,236.10 532.66,233.49 533.16,230.93 533.66,228.42 534.16,225.97 534.66,223.57 535.16,221.23 535.66,218.95 536.16,216.74 536.66,214.58 537.16,212.49 537.66,210.45 538.16,208.48 538.66,206.57 539.16,204.71 539.66,202.92 540.16,201.18 540.66,199.49 541.16,197.87 541.66,196.29 542.16,194.77 542.66,193.30 543.16,191.87 543.66,190.50 544.16,189.17 544.66,187.89 545.16,186.65 545.66,185.45 546.16,184.29 546.66,183.18 547.16,182.10 547.66,181.06 548.16,180.06 548.66,179.09 549.16,178.15 549.66,177.25 550.15,176.37 550.65,175.53 551.15,174.72 551.65,173.93 552.15,173.18 552.65,172.44 553.15,171.74 553.65,171.06 554.15,170.40 554.65,169.77 555.15,169.16 555.65,168.57 556.15,168.00 556.65,167.45 557.15,166.92 557.65,166.41 558.15,165.92 558.65,165.44 559.15,164.99 559.65,164.55 560.15,164.12 560.65,163.72 561.15,163.32 561.65,162.95 562.15,162.58 562.65,162.23 563.15,161.90 563.65,161.58 564.15,161.27 564.65,160.97 565.15,160.69 565.65,160.41 566.15,160.15 566.65,159.90 567.15,159.67 567.65,159.44 568.15,159.22 568.65,159.02 569.15,158.82 569.65,158.64 570.15,158.46 570.65,158.29 571.15,158.14 571.65,157.99 572.15,157.85 572.65,157.73 573.15,157.61 573.65,157.50 574.15,157.40 574.65,157.30 575.15,157.22 575.65,157.14 576.15,157.07 576.65,157.02 577.15,156.97 577.65,156.92 578.15,156.89 578.64,156.86 579.14,156.84 579.64,156.84 580.14,156.83 580.64,156.84 581.14,156.85 581.64,156.88 582.14,156.91 582.64,156.95 583.14,157.00 583.64,157.05 584.14,157.12 584.64,157.19 585.14,157.27 585.64,157.36 586.14,157.46 586.64,157.56 587.14,157.68 587.64,157.81 588.14,157.94 588.64,158.08 589.14,158.23 589.64,158.40 590.14,158.57 590.64,158.75 591.14,158.94 591.64,159.14 592.14,159.36 592.64,159.58 593.14,159.81 593.64,160.06 594.14,160.31 594.64,160.58 595.14,160.86 595.64,161.15 596.14,161.46 596.64,161.77 597.14,162.10 597.64,162.45 598.14,162.81 598.64,163.18 599.14,163.57 599.64,163.97 600.14,164.39 600.64,164.82 601.14,165.27 601.64,165.74 602.14,166.22 602.64,166.73 603.14,167.25 603.64,167.79 604.14,168.35 604.64,168.93 605.14,169.53 605.64,170.16 606.14,170.81 606.64,171.48 607.14,172.17 607.63,172.90 608.13,173.64 608.63,174.42 609.13,175.22 609.63,176.05 610.13,176.91 610.63,177.80 611.13,178.73 611.63,179.68 612.13,180.68 612.63,181.70 613.13,182.77 613.63,183.87 614.13,185.01 614.63,186.19 615.13,187.41 615.63,188.68 616.13,189.99 616.63,191.35 617.13,192.75 617.63,194.21 618.13,195.71 618.63,197.26 619.13,198.87 619.63,200.54 620.13,202.25 620.63,204.03 621.13,205.86 621.63,207.75 622.13,209.70 622.63,211.71 623.13,213.78 623.63,215.92 624.13,218.11 624.63,220.36 625.13,222.68 625.63,225.05 626.13,227.49 626.63,229.97 627.13,232.52 627.63,235.11 628.13,237.75 628.63,240.43 629.13,243.15 629.63,245.90 630.13,248.68 630.63,251.47 631.13,254.27 631.63,257.08 632.13,259.87 632.63,262.64 633.13,265.37 633.63,268.06 634.13,270.69 634.63,273.24 635.13,275.70 635.63,278.05 636.12,280.28 636.62,282.38 637.12,284.32 637.62,286.09 638.12,287.68 638.62,289.08 639.12,290.27 639.62,291.24 640.12,291.98 640.62,292.49 641.12,292.77 641.62,292.80 642.12,292.59 642.62,292.14 643.12,291.45 643.62,290.53 644.12,289.39 644.62,288.04 645.12,286.49 645.62,284.74 646.12,282.83 646.62,280.75 647.12,278.53 647.62,276.18 648.12,273.71 648.62,271.15 649.12,268.50 649.62,265.79 650.12,263.02 650.62,260.21 651.12,257.37 651.62,254.52 652.12,251.66 652.62,248.81 653.12,245.97 653.62,243.15 654.12,240.35 654.62,237.60 655.12,234.88 655.62,232.21 656.12,229.59 656.62,227.02 657.12,224.50 657.62,222.04 658.12,219.64 658.62,217.30 659.12,215.01 659.62,212.79 660.12,210.63 660.62,208.53 661.12,206.49 661.62,204.51 662.12,202.59 662.62,200.73 663.12,198.92 663.62,197.17 664.12,195.47 664.62,193.83 665.11,192.24 665.61,190.70 666.11,189.20 666.61,187.76 667.11,186.36 667.61,185.00 668.11,183.69 668.61,182.42 669.11,181.19 669.61,180.00 670.11,178.85 670.61,177.74 671.11,176.66 671.61,175.61 672.11,174.60 672.61,173.62 673.11,172.67 673.61,171.74 674.11,170.85 674.61,169.99 675.11,169.15 675.61,168.34 676.11,167.55 676.61,166.78 677.11,166.04 677.61,165.32 678.11,164.62 678.61,163.95 679.11,163.29 679.61,162.65 680.11,162.03 680.61,161.43 681.11,160.84 681.61,160.27 682.11,159.72 682.61,159.18 683.11,158.66 683.61,158.15 684.11,157.66 684.61,157.18 685.11,156.71 685.61,156.26 686.11,155.82 686.61,155.39 687.11,154.97 687.61,154.56 688.11,154.16 688.61,153.77 689.11,153.39 689.61,153.03 690.11,152.67 690.61,152.32 691.11,151.98 691.61,151.64 692.11,151.32 692.61,151.00 693.11,150.69 693.61,150.39 694.10,150.10 694.60,149.81 695.10,149.53 695.60,149.26 696.10,148.99 696.60,148.73 697.10,148.47 697.60,148.22 698.10,147.98 698.60,147.74 699.10,147.51 699.60,147.28 700.10,147.06 700.60,146.84 701.10,146.62 701.60,146.41 702.10,146.21 702.60,146.01 703.10,145.81 703.60,145.62 704.10,145.44 704.60,145.25 705.10,145.07 705.60,144.90 706.10,144.72 706.60,144.55 707.10,144.39 707.60,144.22 708.10,144.07 708.60,143.91 709.10,143.76 709.60,143.61 710.10,143.46 710.60,143.31 711.10,143.17 711.60,143.03 712.10,142.90 712.60,142.76 713.10,142.63 713.60,142.50 714.10,142.38 714.60,142.25 715.10,142.13 715.60,142.01 716.10,141.89 716.60,141.78 717.10,141.66 717.60,141.55 718.10,141.44 718.60,141.34 719.10,141.23 719.60,141.13 720.10,141.02 720.60,140.92 721.10,140.82 721.60,140.73 722.10,140.63 722.59,140.54 723.09,140.45 723.59,140.35 724.09,140.27 724.59,140.18 725.09,140.09 725.59,140.01 726.09,139.92 726.59,139.84 727.09,139.76 727.59,139.68 728.09,139.60 728.59,139.52 729.09,139.45 729.59,139.37 730.09,139.30 730.59,139.23 731.09,139.15 731.59,139.08 732.09,139.02 732.59,138.95 733.09,138.88 733.59,138.81 734.09,138.75 734.59,138.68 735.09,138.62 735.59,138.56 736.09,138.50 736.59,138.43 737.09,138.37 737.59,138.32 738.09,138.26 738.59,138.20 739.09,138.14 739.59,138.09 740.09,138.03 740.59,137.98 741.09,137.93 741.59,137.87 742.09,137.82 742.59,137.77 743.09,137.72 743.59,137.67 744.09,137.62 744.59,137.57 745.09,137.52 745.59,137.47 746.09,137.43 746.59,137.38 747.09,137.34 747.59,137.29 748.09,137.25 748.59,137.20 749.09,137.16 749.59,137.12 750.09,137.07 750.59,137.03 751.09,136.99 751.58,136.95 752.08,136.91 752.58,136.87 753.08,136.83 753.58,136.79 754.08,136.76 754.58,136.72 755.08,136.68 755.58,136.64 756.08,136.61 756.58,136.57 757.08,136.54 757.58,136.50 758.08,136.47 758.58,136.43 759.08,136.40 759.58,136.36 760.08,136.33 760.58,136.30 761.08,136.27 761.58,136.23 762.08,136.20 762.58,136.17 763.08,136.14 763.58,136.11 764.08,136.08 764.58,136.05 765.08,136.02 765.58,135.99 766.08,135.96 766.58,135.93 767.08,135.91 767.58,135.88 768.08,135.85 768.58,135.82 769.08,135.80 769.58,135.77 770.08,135.74 770.58,135.72 771.08,135.69 771.58,135.66 772.08,135.64 772.58,135.61 773.08,135.59 773.58,135.56 774.08,135.54 774.58,135.52 775.08,135.49 775.58,135.47 776.08,135.45 776.58,135.42 777.08,135.40 777.58,135.38 778.08,135.35 778.58,135.33 779.08,135.31 779.58,135.29 780.07,135.27 780.57,135.25 781.07,135.22 781.57,135.20 782.07,135.18 782.57,135.16 783.07,135.14 783.57,135.12 784.07,135.10 784.57,135.08 785.07,135.06 785.57,135.04 786.07,135.02 786.57,135.01 787.07,134.99 787.57,134.97 788.07,134.95 788.57,134.93 789.07,134.91 789.57,134.89 790.07,134.88 790.57,134.86 791.07,134.84 791.57,134.82 792.07,134.81 792.57,134.79 793.07,134.77 793.57,134.76 794.07,134.74 794.57,134.72 795.07,134.71 795.57,134.69 796.07,134.68 796.57,134.66 797.07,134.64 797.57,134.63 798.07,134.61 798.57,134.60 799.07,134.58 799.57,134.57 800.07,134.55 800.57,134.54 801.07,134.52 801.57,134.51 802.07,134.50 802.57,134.48 803.07,134.47 803.57,134.45 804.07,134.44 804.57,134.43 805.07,134.41 805.57,134.40 806.07,134.38 806.57,134.37 807.07,134.36 807.57,134.35 808.07,134.33 808.57,134.32 809.06,134.31 809.56,134.29 810.06,134.28 810.56,134.27 811.06,134.26 811.56,134.24 812.06,134.23 812.56,134.22 813.06,134.21 813.56,134.20 814.06,134.18 814.56,134.17 815.06,134.16 815.56,134.15 816.06,134.14 816.56,134.13 817.06,134.12 817.56,134.11 818.06,134.09 818.56,134.08 819.06,134.07 819.56,134.06 820.06,134.05 820.56,134.04 821.06,134.03 821.56,134.02 822.06,134.01 822.56,134.00 823.06,133.99 823.56,133.98 824.06,133.97 824.56,133.96 825.06,133.95 825.56,133.94 826.06,133.93 826.56,133.92 827.06,133.91 827.56,133.90 828.06,133.89 828.56,133.88 829.06,133.87 829.56,133.86 830.06,133.85 830.56,133.84 831.06,133.83 831.56,133.83 832.06,133.82 832.56,133.81 833.06,133.80 833.56,133.79 834.06,133.78 834.56,133.77 835.06,133.76 835.56,133.76 836.06,133.75 836.56,133.74 837.06,133.73 837.56,133.72 838.05,133.71 838.55,133.71 839.05,133.70 839.55,133.69 840.05,133.68 840.55,133.67 841.05,133.67 841.55,133.66 842.05,133.65 842.55,133.64 843.05,133.63 843.55,133.63 844.05,133.62 844.55,133.61 845.05,133.60 845.55,133.60 846.05,133.59 846.55,133.58 847.05,133.58 847.55,133.57 848.05,133.56 848.55,133.55 849.05,133.55 849.55,133.54 850.05,133.53 850.55,133.53 851.05,133.52 851.55,133.51 852.05,133.51 852.55,133.50 853.05,133.49 853.55,133.49 854.05,133.48 854.55,133.47 855.05,133.47 855.55,133.46 856.05,133.45 856.55,133.45 857.05,133.44 857.55,133.43 858.05,133.43 858.55,133.42 859.05,133.41 859.55,133.41 860.05,133.40 860.55,133.40 861.05,133.39 861.55,133.38 862.05,133.38 862.55,133.37 863.05,133.37 863.55,133.36 864.05,133.35 864.55,133.35 865.05,133.34 865.55,133.34 866.05,133.33 866.54,133.33 867.04,133.32 867.54,133.31 868.04,133.31 868.54,133.30 869.04,133.30 869.54,133.29 870.04,133.29 870.54,133.28 871.04,133.28 871.54,133.27 872.04,133.27 872.54,133.26 873.04,133.26 873.54,133.25 874.04,133.25 874.54,133.24 875.04,133.23 875.54,133.23 876.04,133.22 876.54,133.22 877.04,133.21 877.54,133.21 878.04,133.20 878.54,133.20 879.04,133.20 879.54,133.19 880.04,133.19 880.54,133.18 881.04,133.18 881.54,133.17 882.04,133.17 882.54,133.16 883.04,133.16 883.54,133.15 884.04,133.15 884.54,133.14 885.04,133.14 885.54,133.13 886.04,133.13 886.54,133.13 887.04,133.12 887.54,133.12 888.04,133.11 888.54,133.11 889.04,133.10 889.54,133.10 890.04,133.09 890.54,133.09 891.04,133.09 891.54,133.08 892.04,133.08 892.54,133.07 893.04,133.07 893.54,133.07 894.04,133.06 894.54,133.06 895.04,133.05 895.53,133.05 896.03,133.04 896.53,133.04 897.03,133.04 897.53,133.03 898.03,133.03 898.53,133.02 899.03,133.02 899.53,133.02 900.03,133.01 900.53,133.01 901.03,133.01 901.53,133.00 902.03,133.00 902.53,132.99 903.03,132.99 903.53,132.99 904.03,132.98 904.53,132.98 905.03,132.98 905.53,132.97 906.03,132.97 906.53,132.96 907.03,132.96 907.53,132.96 908.03,132.95 908.53,132.95 909.03,132.95 909.53,132.94 910.03,132.94 910.53,132.94 911.03,132.93 911.53,132.93 912.03,132.93 912.53,132.92 913.03,132.92 913.53,132.92 914.03,132.91 914.53,132.91 915.03,132.91 915.53,132.90 916.03,132.90 916.53,132.90 917.03,132.89 917.53,132.89 918.03,132.89 918.53,132.88 919.03,132.88 919.53,132.88 920.03,132.87 920.53,132.87 921.03,132.87 921.53,132.86 922.03,132.86 922.53,132.86 923.03,132.86 923.53,132.85 924.02,132.85 924.52,132.85 925.02,132.84 925.52,132.84 926.02,132.84 926.52,132.83 927.02,132.83 927.52,132.83 928.02,132.83 928.52,132.82 929.02,132.82 929.52,132.82 930.02,132.81 930.52,132.81 931.02,132.81 931.52,132.81 932.02,132.80 932.52,132.80 933.02,132.80 933.52,132.79 934.02,132.79 934.52,132.79 935.02,132.79 935.52,132.78 936.02,132.78 936.52,132.78 937.02,132.78 937.52,132.77 938.02,132.77 938.52,132.77 939.02,132.77 939.52,132.76 940.02,132.76 940.52,132.76 941.02,132.75 941.52,132.75 942.02,132.75 942.52,132.75 943.02,132.74 943.52,132.74 944.02,132.74 944.52,132.74 945.02,132.73 945.52,132.73 946.02,132.73 946.52,132.73 947.02,132.73 947.52,132.72 948.02,132.72 948.52,132.72 949.02,132.72 949.52,132.71 950.02,132.71 950.52,132.71 951.02,132.71 951.52,132.70 952.02,132.70 952.52,132.70 953.01,132.70 953.51,132.69 954.01,132.69 954.51,132.69 955.01,132.69 955.51,132.69 956.01,132.68 956.51,132.68 957.01,132.68 957.51,132.68 958.01,132.67 958.51,132.67 959.01,132.67 959.51,132.67 960.01,132.67 960.51,132.66 961.01,132.66 961.51,132.66 962.01,132.66 962.51,132.65 963.01,132.65 963.51,132.65 964.01,132.65 964.51,132.65 965.01,132.64 965.51,132.64 966.01,132.64 966.51,132.64 967.01,132.64 967.51,132.63 968.01,132.63 968.51,132.63 969.01,132.63 969.51,132.63 970.01,132.62 970.51,132.62 971.01,132.62 971.51,132.62 972.01,132.62 972.51,132.61 973.01,132.61 973.51,132.61 974.01,132.61 974.51,132.61 975.01,132.60 975.51,132.60 976.01,132.60 976.51,132.60 977.01,132.60 977.51,132.59 978.01,132.59 978.51,132.59 979.01,132.59 979.51,132.59 980.01,132.59 980.51,132.58 981.01,132.58 981.51,132.58 982.00,132.58 982.50,132.58 983.00,132.57 983.50,132.57 984.00,132.57 984.50,132.57 985.00,132.57 985.50,132.57 986.00,132.56 986.50,132.56 987.00,132.56 987.50,132.56 988.00,132.56 988.50,132.56 989.00,132.55 989.50,132.55 990.00,132.55 990.50,132.55 991.00,132.55 991.50,132.55 992.00,132.54 992.50,132.54 993.00,132.54 993.50,132.54 994.00,132.54 994.50,132.54 995.00,132.53 995.50,132.53 996.00,132.53 996.00,131.90" fill="#1ab2cb" stroke="#000" stroke-width="2.5" stroke-linejoin="round"/>
<polygon points="132.30,131.90 132.30,132.17 132.80,132.17 133.30,132.17 133.80,132.17 134.30,132.17 134.80,132.17 135.30,132.17 135.80,132.17 136.30,132.17 136.80,132.17 137.30,132.17 137.80,132.17 138.30,132.18 138.80,132.18 139.30,132.18 139.80,132.18 140.30,132.18 140.80,132.18 141.30,132.18 141.80,132.18 142.30,132.18 142.80,132.18 143.30,132.18 143.80,132.18 144.30,132.18 144.80,132.18 145.30,132.18 145.80,132.18 146.30,132.19 146.79,132.19 147.29,132.19 147.79,132.19 148.29,132.19 148.79,132.19 149.29,132.19 149.79,132.19 150.29,132.19 150.79,132.19 151.29,132.19 151.79,132.19 152.29,132.19 152.79,132.19 153.29,132.20 153.79,132.20 154.29,132.20 154.79,132.20 155.29,132.20 155.79,132.20 156.29,132.20 156.79,132.20 157.29,132.20 157.79,132.20 158.29,132.20 158.79,132.20 159.29,132.20 159.79,132.20 160.29,132.21 160.79,132.21 161.29,132.21 161.79,132.21 162.29,132.21 162.79,132.21 163.29,132.21 163.79,132.21 164.29,132.21 164.79,132.21 165.29,132.21 165.79,132.21 166.29,132.21 166.79,132.21 167.29,132.22 167.79,132.22 168.29,132.22 168.79,132.22 169.29,132.22 169.79,132.22 170.29,132.22 170.79,132.22 171.29,132.22 171.79,132.22 172.29,132.22 172.79,132.22 173.29,132.23 173.79,132.23 174.29,132.23 174.79,132.23 175.29,132.23 175.78,132.23 176.28,132.23 176.78,132.23 177.28,132.23 177.78,132.23 178.28,132.23 178.78,132.23 179.28,132.23 179.78,132.24 180.28,132.24 180.78,132.24 181.28,132.24 181.78,132.24 182.28,132.24 182.78,132.24 183.28,132.24 183.78,132.24 184.28,132.24 184.78,132.24 185.28,132.25 185.78,132.25 186.28,132.25 186.78,132.25 187.28,132.25 187.78,132.25 188.28,132.25 188.78,132.25 189.28,132.25 189.78,132.25 190.28,132.25 190.78,132.26 191.28,132.26 191.78,132.26 192.28,132.26 192.78,132.26 193.28,132.26 193.78,132.26 194.28,132.26 194.78,132.26 195.28,132.26 195.78,132.26 196.28,132.27 196.78,132.27 197.28,132.27 197.78,132.27 198.28,132.27 198.78,132.27 199.28,132.27 199.78,132.27 200.28,132.27 200.78,132.27 201.28,132.28 201.78,132.28 202.28,132.28 202.78,132.28 203.28,132.28 203.78,132.28 204.27,132.28 204.77,132.28 205.27,132.28 205.77,132.28 206.27,132.29 206.77,132.29 207.27,132.29 207.77,132.29 208.27,132.29 208.77,132.29 209.27,132.29 209.77,132.29 210.27,132.29 210.77,132.29 211.27,132.30 211.77,132.30 212.27,132.30 212.77,132.30 213.27,132.30 213.77,132.30 214.27,132.30 214.77,132.30 215.27,132.30 215.77,132.31 216.27,132.31 216.77,132.31 217.27,132.31 217.77,132.31 218.27,132.31 218.77,132.31 219.27,132.31 219.77,132.32 220.27,132.32 220.77,132.32 221.27,132.32 221.77,132.32 222.27,132.32 222.77,132.32 223.27,132.32 223.77,132.32 224.27,132.33 224.77,132.33 225.27,132.33 225.77,132.33 226.27,132.33 226.77,132.33 227.27,132.33 227.77,132.33 228.27,132.34 228.77,132.34 229.27,132.34 229.77,132.34 230.27,132.34 230.77,132.34 231.27,132.34 231.77,132.34 232.27,132.35 232.77,132.35 233.26,132.35 233.76,132.35 234.26,132.35 234.76,132.35 235.26,132.35 235.76,132.35 236.26,132.36 236.76,132.36 237.26,132.36 237.76,132.36 238.26,132.36 238.76,132.36 239.26,132.36 239.76,132.37 240.26,132.37 240.76,132.37 241.26,132.37 241.76,132.37 242.26,132.37 242.76,132.37 243.26,132.38 243.76,132.38 244.26,132.38 244.76,132.38 245.26,132.38 245.76,132.38 246.26,132.38 246.76,132.39 247.26,132.39 247.76,132.39 248.26,132.39 248.76,132.39 249.26,132.39 249.76,132.39 250.26,132.40 250.76,132.40 251.26,132.40 251.76,132.40 252.26,132.40 252.76,132.40 253.26,132.41 253.76,132.41 254.26,132.41 254.76,132.41 255.26,132.41 255.76,132.41 256.26,132.41 256.76,132.42 257.26,132.42 257.76,132.42 258.26,132.42 258.76,132.42 259.26,132.42 259.76,132.43 260.26,132.43 260.76,132.43 261.26,132.43 261.76,132.43 262.25,132.43 262.75,132.44 263.25,132.44 263.75,132.44 264.25,132.44 264.75,132.44 265.25,132.45 265.75,132.45 266.25,132.45 266.75,132.45 267.25,132.45 267.75,132.45 268.25,132.46 268.75,132.46 269.25,132.46 269.75,132.46 270.25,132.46 270.75,132.46 271.25,132.47 271.75,132.47 272.25,132.47 272.75,132.47 273.25,132.47 273.75,132.48 274.25,132.48 274.75,132.48 275.25,132.48 275.75,132.48 276.25,132.49 276.75,132.49 277.25,132.49 277.75,132.49 278.25,132.49 278.75,132.50 279.25,132.50 279.75,132.50 280.25,132.50 280.75,132.50 281.25,132.51 281.75,132.51 282.25,132.51 282.75,132.51 283.25,132.51 283.75,132.52 284.25,132.52 284.75,132.52 285.25,132.52 285.75,132.52 286.25,132.53 286.75,132.53 287.25,132.53 287.75,132.53 288.25,132.54 288.75,132.54 289.25,132.54 289.75,132.54 290.25,132.54 290.74,132.55 291.24,132.55 291.74,132.55 292.24,132.55 292.74,132.56 293.24,132.56 293.74,132.56 294.24,132.56 294.74,132.57 295.24,132.57 295.74,132.57 296.24,132.57 296.74,132.57 297.24,132.58 297.74,132.58 298.24,132.58 298.74,132.58 299.24,132.59 299.74,132.59 300.24,132.59 300.74,132.59 301.24,132.60 301.74,132.60 302.24,132.60 302.74,132.60 303.24,132.61 303.74,132.61 304.24,132.61 304.74,132.62 305.24,132.62 305.74,132.62 306.24,132.62 306.74,132.63 307.24,132.63 307.74,132.63 308.24,132.63 308.74,132.64 309.24,132.64 309.74,132.64 310.24,132.65 310.74,132.65 311.24,132.65 311.74,132.65 312.24,132.66 312.74,132.66 313.24,132.66 313.74,132.67 314.24,132.67 314.74,132.67 315.24,132.67 315.74,132.68 316.24,132.68 316.74,132.68 317.24,132.69 317.74,132.69 318.24,132.69 318.74,132.70 319.24,132.70 319.73,132.70 320.23,132.70 320.73,132.71 321.23,132.71 321.73,132.71 322.23,132.72 322.73,132.72 323.23,132.72 323.73,132.73 324.23,132.73 324.73,132.73 325.23,132.74 325.73,132.74 326.23,132.74 326.73,132.75 327.23,132.75 327.73,132.75 328.23,132.76 328.73,132.76 329.23,132.76 329.73,132.77 330.23,132.77 330.73,132.77 331.23,132.78 331.73,132.78 332.23,132.79 332.73,132.79 333.23,132.79 333.73,132.80 334.23,132.80 334.73,132.80 335.23,132.81 335.73,132.81 336.23,132.82 336.73,132.82 337.23,132.82 337.73,132.83 338.23,132.83 338.73,132.84 339.23,132.84 339.73,132.84 340.23,132.85 340.73,132.85 341.23,132.86 341.73,132.86 342.23,132.86 342.73,132.87 343.23,132.87 343.73,132.88 344.23,132.88 344.73,132.88 345.23,132.89 345.73,132.89 346.23,132.90 346.73,132.90 347.23,132.91 347.73,132.91 348.23,132.91 348.72,132.92 349.22,132.92 349.72,132.93 350.22,132.93 350.72,132.94 351.22,132.94 351.72,132.95 352.22,132.95 352.72,132.96 353.22,132.96 353.72,132.97 354.22,132.97 354.72,132.98 355.22,132.98 355.72,132.99 356.22,132.99 356.72,133.00 357.22,133.00 357.72,133.01 358.22,133.01 358.72,133.02 359.22,133.02 359.72,133.03 360.22,133.03 360.72,133.04 361.22,133.04 361.72,133.05 362.22,133.05 362.72,133.06 363.22,133.06 363.72,133.07 364.22,133.07 364.72,133.08 365.22,133.09 365.72,133.09 366.22,133.10 366.72,133.10 367.22,133.11 367.72,133.11 368.22,133.12 368.72,133.13 369.22,133.13 369.72,133.14 370.22,133.14 370.72,133.15 371.22,133.16 371.72,133.16 372.22,133.17 372.72,133.18 373.22,133.18 373.72,133.19 374.22,133.19 374.72,133.20 375.22,133.21 375.72,133.21 376.22,133.22 376.72,133.23 377.21,133.23 377.71,133.24 378.21,133.25 378.71,133.25 379.21,133.26 379.71,133.27 380.21,133.28 380.71,133.28 381.21,133.29 381.71,133.30 382.21,133.30 382.71,133.31 383.21,133.32 383.71,133.33 384.21,133.33 384.71,133.34 385.21,133.35 385.71,133.36 386.21,133.36 386.71,133.37 387.21,133.38 387.71,133.39 388.21,133.40 388.71,133.40 389.21,133.41 389.71,133.42 390.21,133.43 390.71,133.44 391.21,133.45 391.71,133.45 392.21,133.46 392.71,133.47 393.21,133.48 393.71,133.49 394.21,133.50 394.71,133.51 395.21,133.52 395.71,133.52 396.21,133.53 396.71,133.54 397.21,133.55 397.71,133.56 398.21,133.57 398.71,133.58 399.21,133.59 399.71,133.60 400.21,133.61 400.71,133.62 401.21,133.63 401.71,133.64 402.21,133.65 402.71,133.66 403.21,133.67 403.71,133.68 404.21,133.69 404.71,133.70 405.21,133.71 405.71,133.72 406.20,133.73 406.70,133.75 407.20,133.76 407.70,133.77 408.20,133.78 408.70,133.79 409.20,133.80 409.70,133.81 410.20,133.82 410.70,133.84 411.20,133.85 411.70,133.86 412.20,133.87 412.70,133.89 413.20,133.90 413.70,133.91 414.20,133.92 414.70,133.94 415.20,133.95 415.70,133.96 416.20,133.97 416.70,133.99 417.20,134.00 417.70,134.01 418.20,134.03 418.70,134.04 419.20,134.06 419.70,134.07 420.20,134.08 420.70,134.10 421.20,134.11 421.70,134.13 422.20,134.14 422.70,134.16 423.20,134.17 423.70,134.19 424.20,134.20 424.70,134.22 425.20,134.23 425.70,134.25 426.20,134.27 426.70,134.28 427.20,134.30 427.70,134.31 428.20,134.33 428.70,134.35 429.20,134.36 429.70,134.38 430.20,134.40 430.70,134.42 431.20,134.43 431.70,134.45 432.20,134.47 432.70,134.49 433.20,134.51 433.70,134.53 434.20,134.55 434.69,134.56 435.19,134.58 435.69,134.60 436.19,134.62 436.69,134.64 437.19,134.66 437.69,134.68 438.19,134.70 438.69,134.73 439.19,134.75 439.69,134.77 440.19,134.79 440.69,134.81 441.19,134.83 441.69,134.86 442.19,134.88 442.69,134.90 443.19,134.93 443.69,134.95 444.19,134.97 444.69,135.00 445.19,135.02 445.69,135.05 446.19,135.07 446.69,135.10 447.19,135.12 447.69,135.15 448.19,135.17 448.69,135.20 449.19,135.23 449.69,135.25 450.19,135.28 450.69,135.31 451.19,135.34 451.69,135.37 452.19,135.39 452.69,135.42 453.19,135.45 453.69,135.48 454.19,135.51 454.69,135.54 455.19,135.58 455.69,135.61 456.19,135.64 456.69,135.67 457.19,135.71 457.69,135.74 458.19,135.77 458.69,135.81 459.19,135.84 459.69,135.88 460.19,135.91 460.69,135.95 461.19,135.98 461.69,136.02 462.19,136.06 462.69,136.10 463.19,136.14 463.68,136.18 464.18,136.22 464.68,136.26 465.18,136.30 465.68,136.34 466.18,136.38 466.68,136.42 467.18,136.47 467.68,136.51 468.18,136.55 468.68,136.60 469.18,136.65 469.68,136.69 470.18,136.74 470.68,136.79 471.18,136.84 471.68,136.89 472.18,136.94 472.68,136.99 473.18,137.04 473.68,137.09 474.18,137.15 474.68,137.20 475.18,137.26 475.68,137.31 476.18,137.37 476.68,137.43 477.18,137.49 477.68,137.55 478.18,137.61 478.68,137.67 479.18,137.73 479.68,137.80 480.18,137.86 480.68,137.93 481.18,137.99 481.68,138.06 482.18,138.13 482.68,138.20 483.18,138.27 483.68,138.35 484.18,138.42 484.68,138.50 485.18,138.57 485.68,138.65 486.18,138.73 486.68,138.81 487.18,138.90 487.68,138.98 488.18,139.07 488.68,139.15 489.18,139.24 489.68,139.33 490.18,139.43 490.68,139.52 491.18,139.62 491.68,139.72 492.17,139.81 492.67,139.92 493.17,140.02 493.67,140.13 494.17,140.23 494.67,140.34 495.17,140.46 495.67,140.57 496.17,140.69 496.67,140.81 497.17,140.93 497.67,141.05 498.17,141.18 498.67,141.31 499.17,141.44 499.67,141.58 500.17,141.72 500.67,141.86 501.17,142.00 501.67,142.15 502.17,142.30 502.67,142.45 503.17,142.61 503.67,142.77 504.17,142.94 504.67,143.10 505.17,143.28 505.67,143.45 506.17,143.63 506.67,143.82 507.17,144.01 507.67,144.20 508.17,144.40 508.67,144.60 509.17,144.81 509.67,145.02 510.17,145.24 510.67,145.46 511.17,145.69 511.67,145.93 512.17,146.17 512.67,146.42 513.17,146.67 513.67,146.93 514.17,147.20 514.67,147.48 515.17,147.76 515.67,148.05 516.17,148.34 516.67,148.65 517.17,148.96 517.67,149.29 518.17,149.62 518.67,149.96 519.17,150.31 519.67,150.67 520.17,151.04 520.67,151.42 521.16,151.81 521.66,152.22 522.16,152.63 522.66,153.06 523.16,153.50 523.66,153.96 524.16,154.42 524.66,154.90 525.16,155.40 525.66,155.91 526.16,156.44 526.66,156.98 527.16,157.54 527.66,158.12 528.16,158.72 528.66,159.33 529.16,159.97 529.66,160.62 530.16,161.30 530.66,161.99 531.16,162.71 531.66,163.45 532.16,164.22 532.66,165.01 533.16,165.82 533.66,166.67 534.16,167.53 534.66,168.43 535.16,169.35 535.66,170.30 536.16,171.28 536.66,172.29 537.16,173.34 537.66,174.41 538.16,175.52 538.66,176.65 539.16,177.82 539.66,179.03 540.16,180.26 540.66,181.53 541.16,182.83 541.66,184.16 542.16,185.53 542.66,186.92 543.16,188.35 543.66,189.80 544.16,191.28 544.66,192.78 545.16,194.31 545.66,195.86 546.16,197.42 546.66,198.99 547.16,200.57 547.66,202.15 548.16,203.74 548.66,205.31 549.16,206.88 549.66,208.42 550.15,209.93 550.65,211.42 551.15,212.86 551.65,214.25 552.15,215.59 552.65,216.86 553.15,218.06 553.65,219.18 554.15,220.21 554.65,221.15 555.15,221.99 555.65,222.73 556.15,223.36 556.65,223.87 557.15,224.27 557.65,224.55 558.15,224.71 558.65,224.75 559.15,224.68 559.65,224.50 560.15,224.21 560.65,223.82 561.15,223.33 561.65,222.74 562.15,222.08 562.65,221.33 563.15,220.52 563.65,219.65 564.15,218.73 564.65,217.76 565.15,216.76 565.65,215.73 566.15,214.67 566.65,213.61 567.15,212.54 567.65,211.47 568.15,210.41 568.65,209.36 569.15,208.33 569.65,207.32 570.15,206.33 570.65,205.38 571.15,204.46 571.65,203.58 572.15,202.74 572.65,201.94 573.15,201.18 573.65,200.47 574.15,199.81 574.65,199.20 575.15,198.63 575.65,198.12 576.15,197.66 576.65,197.25 577.15,196.90 577.65,196.60 578.15,196.35 578.64,196.16 579.14,196.02 579.64,195.94 580.14,195.91 580.64,195.93 581.14,196.01 581.64,196.15 582.14,196.33 582.64,196.58 583.14,196.87 583.64,197.22 584.14,197.63 584.64,198.08 585.14,198.59 585.64,199.15 586.14,199.76 586.64,200.42 587.14,201.12 587.64,201.87 588.14,202.67 588.64,203.51 589.14,204.39 589.64,205.30 590.14,206.25 590.64,207.23 591.14,208.24 591.64,209.27 592.14,210.32 592.64,211.38 593.14,212.45 593.64,213.52 594.14,214.59 594.64,215.64 595.14,216.67 595.64,217.68 596.14,218.65 596.64,219.58 597.14,220.45 597.64,221.27 598.14,222.02 598.64,222.69 599.14,223.28 599.64,223.78 600.14,224.18 600.64,224.48 601.14,224.67 601.64,224.75 602.14,224.72 602.64,224.56 603.14,224.29 603.64,223.91 604.14,223.40 604.64,222.79 605.14,222.06 605.64,221.23 606.14,220.30 606.64,219.27 607.14,218.16 607.63,216.96 608.13,215.70 608.63,214.37 609.13,212.98 609.63,211.54 610.13,210.06 610.63,208.55 611.13,207.00 611.63,205.44 612.13,203.87 612.63,202.29 613.13,200.70 613.63,199.12 614.13,197.55 614.63,195.98 615.13,194.44 615.63,192.91 616.13,191.40 616.63,189.92 617.13,188.47 617.63,187.04 618.13,185.64 618.63,184.28 619.13,182.94 619.63,181.64 620.13,180.36 620.63,179.13 621.13,177.92 621.63,176.75 622.13,175.61 622.63,174.50 623.13,173.42 623.63,172.38 624.13,171.37 624.63,170.38 625.13,169.43 625.63,168.50 626.13,167.61 626.63,166.74 627.13,165.89 627.63,165.08 628.13,164.28 628.63,163.52 629.13,162.77 629.63,162.05 630.13,161.35 630.63,160.68 631.13,160.02 631.63,159.39 632.13,158.77 632.63,158.17 633.13,157.59 633.63,157.03 634.13,156.48 634.63,155.96 635.13,155.44 635.63,154.95 636.12,154.46 636.62,153.99 637.12,153.54 637.62,153.10 638.12,152.67 638.62,152.25 639.12,151.85 639.62,151.45 640.12,151.07 640.62,150.70 641.12,150.34 641.62,149.99 642.12,149.64 642.62,149.31 643.12,148.99 643.62,148.67 644.12,148.37 644.62,148.07 645.12,147.78 645.62,147.50 646.12,147.22 646.62,146.96 647.12,146.69 647.62,146.44 648.12,146.19 648.62,145.95 649.12,145.71 649.62,145.48 650.12,145.26 650.62,145.04 651.12,144.83 651.62,144.62 652.12,144.41 652.62,144.22 653.12,144.02 653.62,143.83 654.12,143.65 654.62,143.47 655.12,143.29 655.62,143.12 656.12,142.95 656.62,142.78 657.12,142.62 657.62,142.47 658.12,142.31 658.62,142.16 659.12,142.01 659.62,141.87 660.12,141.73 660.62,141.59 661.12,141.45 661.62,141.32 662.12,141.19 662.62,141.06 663.12,140.94 663.62,140.82 664.12,140.70 664.62,140.58 665.11,140.47 665.61,140.35 666.11,140.24 666.61,140.14 667.11,140.03 667.61,139.93 668.11,139.82 668.61,139.72 669.11,139.63 669.61,139.53 670.11,139.43 670.61,139.34 671.11,139.25 671.61,139.16 672.11,139.07 672.61,138.99 673.11,138.90 673.61,138.82 674.11,138.74 674.61,138.66 675.11,138.58 675.61,138.50 676.11,138.43 676.61,138.35 677.11,138.28 677.61,138.21 678.11,138.14 678.61,138.07 679.11,138.00 679.61,137.93 680.11,137.87 680.61,137.80 681.11,137.74 681.61,137.67 682.11,137.61 682.61,137.55 683.11,137.49 683.61,137.43 684.11,137.37 684.61,137.32 685.11,137.26 685.61,137.21 686.11,137.15 686.61,137.10 687.11,137.04 687.61,136.99 688.11,136.94 688.61,136.89 689.11,136.84 689.61,136.79 690.11,136.74 690.61,136.70 691.11,136.65 691.61,136.60 692.11,136.56 692.61,136.51 693.11,136.47 693.61,136.43 694.10,136.38 694.60,136.34 695.10,136.30 695.60,136.26 696.10,136.22 696.60,136.18 697.10,136.14 697.60,136.10 698.10,136.06 698.60,136.02 699.10,135.99 699.60,135.95 700.10,135.91 700.60,135.88 701.10,135.84 701.60,135.81 702.10,135.77 702.60,135.74 703.10,135.71 703.60,135.67 704.10,135.64 704.60,135.61 705.10,135.58 705.60,135.55 706.10,135.52 706.60,135.49 707.10,135.46 707.60,135.43 708.10,135.40 708.60,135.37 709.10,135.34 709.60,135.31 710.10,135.28 710.60,135.26 711.10,135.23 711.60,135.20 712.10,135.18 712.60,135.15 713.10,135.12 713.60,135.10 714.10,135.07 714.60,135.05 715.10,135.02 715.60,135.00 716.10,134.97 716.60,134.95 717.10,134.93 717.60,134.90 718.10,134.88 718.60,134.86 719.10,134.84 719.60,134.81 720.10,134.79 720.60,134.77 721.10,134.75 721.60,134.73 722.10,134.71 722.59,134.69 723.09,134.67 723.59,134.65 724.09,134.63 724.59,134.61 725.09,134.59 725.59,134.57 726.09,134.55 726.59,134.53 727.09,134.51 727.59,134.49 728.09,134.47 728.59,134.45 729.09,134.44 729.59,134.42 730.09,134.40 730.59,134.38 731.09,134.37 731.59,134.35 732.09,134.33 732.59,134.32 733.09,134.30 733.59,134.28 734.09,134.27 734.59,134.25 735.09,134.23 735.59,134.22 736.09,134.20 736.59,134.19 737.09,134.17 737.59,134.16 738.09,134.14 738.59,134.13 739.09,134.11 739.59,134.10 740.09,134.08 740.59,134.07 741.09,134.06 741.59,134.04 742.09,134.03 742.59,134.02 743.09,134.00 743.59,133.99 744.09,133.98 744.59,133.96 745.09,133.95 745.59,133.94 746.09,133.92 746.59,133.91 747.09,133.90 747.59,133.89 748.09,133.87 748.59,133.86 749.09,133.85 749.59,133.84 750.09,133.83 750.59,133.81 751.09,133.80 751.58,133.79 752.08,133.78 752.58,133.77 753.08,133.76 753.58,133.75 754.08,133.74 754.58,133.72 755.08,133.71 755.58,133.70 756.08,133.69 756.58,133.68 757.08,133.67 757.58,133.66 758.08,133.65 758.58,133.64 759.08,133.63 759.58,133.62 760.08,133.61 760.58,133.60 761.08,133.59 761.58,133.58 762.08,133.57 762.58,133.56 763.08,133.55 763.58,133.54 764.08,133.53 764.58,133.53 765.08,133.52 765.58,133.51 766.08,133.50 766.58,133.49 767.08,133.48 767.58,133.47 768.08,133.46 768.58,133.45 769.08,133.45 769.58,133.44 770.08,133.43 770.58,133.42 771.08,133.41 771.58,133.41 772.08,133.40 772.58,133.39 773.08,133.38 773.58,133.37 774.08,133.37 774.58,133.36 775.08,133.35 775.58,133.34 776.08,133.33 776.58,133.33 777.08,133.32 777.58,133.31 778.08,133.31 778.58,133.30 779.08,133.29 779.58,133.28 780.07,133.28 780.57,133.27 781.07,133.26 781.57,133.26 782.07,133.25 782.57,133.24 783.07,133.23 783.57,133.23 784.07,133.22 784.57,133.21 785.07,133.21 785.57,133.20 786.07,133.20 786.57,133.19 787.07,133.18 787.57,133.18 788.07,133.17 788.57,133.16 789.07,133.16 789.57,133.15 790.07,133.15 790.57,133.14 791.07,133.13 791.57,133.13 792.07,133.12 792.57,133.12 793.07,133.11 793.57,133.10 794.07,133.10 794.57,133.09 795.07,133.09 795.57,133.08 796.07,133.08 796.57,133.07 797.07,133.06 797.57,133.06 798.07,133.05 798.57,133.05 799.07,133.04 799.57,133.04 800.07,133.03 800.57,133.03 801.07,133.02 801.57,133.02 802.07,133.01 802.57,133.01 803.07,133.00 803.57,133.00 804.07,132.99 804.57,132.99 805.07,132.98 805.57,132.98 806.07,132.97 806.57,132.97 807.07,132.96 807.57,132.96 808.07,132.95 808.57,132.95 809.06,132.94 809.56,132.94 810.06,132.93 810.56,132.93 811.06,132.92 811.56,132.92 812.06,132.92 812.56,132.91 813.06,132.91 813.56,132.90 814.06,132.90 814.56,132.89 815.06,132.89 815.56,132.88 816.06,132.88 816.56,132.88 817.06,132.87 817.56,132.87 818.06,132.86 818.56,132.86 819.06,132.86 819.56,132.85 820.06,132.85 820.56,132.84 821.06,132.84 821.56,132.84 822.06,132.83 822.56,132.83 823.06,132.82 823.56,132.82 824.06,132.82 824.56,132.81 825.06,132.81 825.56,132.80 826.06,132.80 826.56,132.80 827.06,132.79 827.56,132.79 828.06,132.79 828.56,132.78 829.06,132.78 829.56,132.78 830.06,132.77 830.56,132.77 831.06,132.76 831.56,132.76 832.06,132.76 832.56,132.75 833.06,132.75 833.56,132.75 834.06,132.74 834.56,132.74 835.06,132.74 835.56,132.73 836.06,132.73 836.56,132.73 837.06,132.72 837.56,132.72 838.05,132.72 838.55,132.71 839.05,132.71 839.55,132.71 840.05,132.70 840.55,132.70 841.05,132.70 841.55,132.70 842.05,132.69 842.55,132.69 843.05,132.69 843.55,132.68 844.05,132.68 844.55,132.68 845.05,132.67 845.55,132.67 846.05,132.67 846.55,132.67 847.05,132.66 847.55,132.66 848.05,132.66 848.55,132.65 849.05,132.65 849.55,132.65 850.05,132.65 850.55,132.64 851.05,132.64 851.55,132.64 852.05,132.63 852.55,132.63 853.05,132.63 853.55,132.63 854.05,132.62 854.55,132.62 855.05,132.62 855.55,132.62 856.05,132.61 856.55,132.61 857.05,132.61 857.55,132.61 858.05,132.60 858.55,132.60 859.05,132.60 859.55,132.59 860.05,132.59 860.55,132.59 861.05,132.59 861.55,132.58 862.05,132.58 862.55,132.58 863.05,132.58 863.55,132.58 864.05,132.57 864.55,132.57 865.05,132.57 865.55,132.57 866.05,132.56 866.54,132.56 867.04,132.56 867.54,132.56 868.04,132.55 868.54,132.55 869.04,132.55 869.54,132.55 870.04,132.54 870.54,132.54 871.04,132.54 871.54,132.54 872.04,132.54 872.54,132.53 873.04,132.53 873.54,132.53 874.04,132.53 874.54,132.52 875.04,132.52 875.54,132.52 876.04,132.52 876.54,132.52 877.04,132.51 877.54,132.51 878.04,132.51 878.54,132.51 879.04,132.51 879.54,132.50 880.04,132.50 880.54,132.50 881.04,132.50 881.54,132.50 882.04,132.49 882.54,132.49 883.04,132.49 883.54,132.49 884.04,132.49 884.54,132.48 885.04,132.48 885.54,132.48 886.04,132.48 886.54,132.48 887.04,132.47 887.54,132.47 888.04,132.47 888.54,132.47 889.04,132.47 889.54,132.47 890.04,132.46 890.54,132.46 891.04,132.46 891.54,132.46 892.04,132.46 892.54,132.45 893.04,132.45 893.54,132.45 894.04,132.45 894.54,132.45 895.04,132.45 895.53,132.44 896.03,132.44 896.53,132.44 897.03,132.44 897.53,132.44 898.03,132.43 898.53,132.43 899.03,132.43 899.53,132.43 900.03,132.43 900.53,132.43 901.03,132.42 901.53,132.42 902.03,132.42 902.53,132.42 903.03,132.42 903.53,132.42 904.03,132.42 904.53,132.41 905.03,132.41 905.53,132.41 906.03,132.41 906.53,132.41 907.03,132.41 907.53,132.40 908.03,132.40 908.53,132.40 909.03,132.40 909.53,132.40 910.03,132.40 910.53,132.39 911.03,132.39 911.53,132.39 912.03,132.39 912.53,132.39 913.03,132.39 913.53,132.39 914.03,132.38 914.53,132.38 915.03,132.38 915.53,132.38 916.03,132.38 916.53,132.38 917.03,132.38 917.53,132.37 918.03,132.37 918.53,132.37 919.03,132.37 919.53,132.37 920.03,132.37 920.53,132.37 921.03,132.36 921.53,132.36 922.03,132.36 922.53,132.36 923.03,132.36 923.53,132.36 924.02,132.36 924.52,132.36 925.02,132.35 925.52,132.35 926.02,132.35 926.52,132.35 927.02,132.35 927.52,132.35 928.02,132.35 928.52,132.34 929.02,132.34 929.52,132.34 930.02,132.34 930.52,132.34 931.02,132.34 931.52,132.34 932.02,132.34 932.52,132.33 933.02,132.33 933.52,132.33 934.02,132.33 934.52,132.33 935.02,132.33 935.52,132.33 936.02,132.33 936.52,132.32 937.02,132.32 937.52,132.32 938.02,132.32 938.52,132.32 939.02,132.32 939.52,132.32 940.02,132.32 940.52,132.32 941.02,132.31 941.52,132.31 942.02,132.31 942.52,132.31 943.02,132.31 943.52,132.31 944.02,132.31 944.52,132.31 945.02,132.30 945.52,132.30 946.02,132.30 946.52,132.30 947.02,132.30 947.52,132.30 948.02,132.30 948.52,132.30 949.02,132.30 949.52,132.30 950.02,132.29 950.52,132.29 951.02,132.29 951.52,132.29 952.02,132.29 952.52,132.29 953.01,132.29 953.51,132.29 954.01,132.29 954.51,132.28 955.01,132.28 955.51,132.28 956.01,132.28 956.51,132.28 957.01,132.28 957.51,132.28 958.01,132.28 958.51,132.28 959.01,132.28 959.51,132.27 960.01,132.27 960.51,132.27 961.01,132.27 961.51,132.27 962.01,132.27 962.51,132.27 963.01,132.27 963.51,132.27 964.01,132.27 964.51,132.26 965.01,132.26 965.51,132.26 966.01,132.26 966.51,132.26 967.01,132.26 967.51,132.26 968.01,132.26 968.51,132.26 969.01,132.26 969.51,132.26 970.01,132.25 970.51,132.25 971.01,132.25 971.51,132.25 972.01,132.25 972.51,132.25 973.01,132.25 973.51,132.25 974.01,132.25 974.51,132.25 975.01,132.25 975.51,132.24 976.01,132.24 976.51,132.24 977.01,132.24 977.51,132.24 978.01,132.24 978.51,132.24 979.01,132.24 979.51,132.24 980.01,132.24 980.51,132.24 981.01,132.23 981.51,132.23 982.00,132.23 982.50,132.23 983.00,132.23 983.50,132.23 984.00,132.23 984.50,132.23 985.00,132.23 985.50,132.23 986.00,132.23 986.50,132.23 987.00,132.23 987.50,132.22 988.00,132.22 988.50,132.22 989.00,132.22 989.50,132.22 990.00,132.22 990.50,132.22 991.00,132.22 991.50,132.22 992.00,132.22 992.50,132.22 993.00,132.22 993.50,132.21 994.00,132.21 994.50,132.21 995.00,132.21 995.50,132.21 996.00,132.21 996.00,131.90" fill="#26d933" stroke="#000" stroke-width="2.5" stroke-linejoin="round"/></g>
<g fill="#000"><circle cx="132.3" cy="143.7" r="2.3"/><circle cx="134.0" cy="130.4" r="2.3"/><circle cx="135.7" cy="133.5" r="2.3"/><circle cx="137.4" cy="135.8" r="2.3"/><circle cx="139.0" cy="128.4" r="2.3"/><circle cx="140.7" cy="133.3" r="2.3"/><circle cx="142.4" cy="133.3" r="2.3"/><circle cx="144.1" cy="122.5" r="2.3"/><circle cx="145.8" cy="139.7" r="2.3"/><circle cx="147.5" cy="137.1" r="2.3"/><circle cx="149.2" cy="129.5" r="2.3"/><circle cx="150.8" cy="132.3" r="2.3"/><circle cx="152.5" cy="136.5" r="2.3"/><circle cx="154.2" cy="131.8" r="2.3"/><circle cx="155.9" cy="131.9" r="2.3"/><circle cx="157.6" cy="124.4" r="2.3"/><circle cx="159.3" cy="136.9" r="2.3"/><circle cx="161.0" cy="134.2" r="2.3"/><circle cx="162.7" cy="135.2" r="2.3"/><circle cx="164.3" cy="124.0" r="2.3"/><circle cx="166.0" cy="143.7" r="2.3"/><circle cx="167.7" cy="134.5" r="2.3"/><circle cx="169.4" cy="131.1" r="2.3"/><circle cx="171.1" cy="146.1" r="2.3"/><circle cx="172.8" cy="133.3" r="2.3"/><circle cx="174.5" cy="124.6" r="2.3"/><circle cx="176.1" cy="131.1" r="2.3"/><circle cx="177.8" cy="119.4" r="2.3"/><circle cx="179.5" cy="140.1" r="2.3"/><circle cx="181.2" cy="131.1" r="2.3"/><circle cx="182.9" cy="129.1" r="2.3"/><circle cx="184.6" cy="140.3" r="2.3"/><circle cx="186.3" cy="123.5" r="2.3"/><circle cx="187.9" cy="137.0" r="2.3"/><circle cx="189.6" cy="120.9" r="2.3"/><circle cx="191.3" cy="129.6" r="2.3"/><circle cx="193.0" cy="126.3" r="2.3"/><circle cx="194.7" cy="142.8" r="2.3"/><circle cx="196.4" cy="144.7" r="2.3"/><circle cx="198.1" cy="131.8" r="2.3"/><circle cx="199.8" cy="139.0" r="2.3"/><circle cx="201.4" cy="132.7" r="2.3"/><circle cx="203.1" cy="137.4" r="2.3"/><circle cx="204.8" cy="129.2" r="2.3"/><circle cx="206.5" cy="123.3" r="2.3"/><circle cx="208.2" cy="122.7" r="2.3"/><circle cx="209.9" cy="136.3" r="2.3"/><circle cx="211.6" cy="147.9" r="2.3"/><circle cx="213.2" cy="135.6" r="2.3"/><circle cx="214.9" cy="130.7" r="2.3"/><circle cx="216.6" cy="145.9" r="2.3"/><circle cx="218.3" cy="135.5" r="2.3"/><circle cx="220.0" cy="134.7" r="2.3"/><circle cx="221.7" cy="135.6" r="2.3"/><circle cx="223.4" cy="133.3" r="2.3"/><circle cx="225.0" cy="132.2" r="2.3"/><circle cx="226.7" cy="125.2" r="2.3"/><circle cx="228.4" cy="137.3" r="2.3"/><circle cx="230.1" cy="133.6" r="2.3"/><circle cx="231.8" cy="141.6" r="2.3"/><circle cx="233.5" cy="131.9" r="2.3"/><circle cx="235.2" cy="122.4" r="2.3"/><circle cx="236.8" cy="133.7" r="2.3"/><circle cx="238.5" cy="144.8" r="2.3"/><circle cx="240.2" cy="132.0" r="2.3"/><circle cx="241.9" cy="128.8" r="2.3"/><circle cx="243.6" cy="127.0" r="2.3"/><circle cx="245.3" cy="127.9" r="2.3"/><circle cx="247.0" cy="132.6" r="2.3"/><circle cx="248.7" cy="127.1" r="2.3"/><circle cx="250.3" cy="143.8" r="2.3"/><circle cx="252.0" cy="132.8" r="2.3"/><circle cx="253.7" cy="135.2" r="2.3"/><circle cx="255.4" cy="143.5" r="2.3"/><circle cx="257.1" cy="143.9" r="2.3"/><circle cx="258.8" cy="133.3" r="2.3"/><circle cx="260.5" cy="136.7" r="2.3"/><circle cx="262.1" cy="139.3" r="2.3"/><circle cx="263.8" cy="133.5" r="2.3"/><circle cx="265.5" cy="123.7" r="2.3"/><circle cx="267.2" cy="138.8" r="2.3"/><circle cx="268.9" cy="140.4" r="2.3"/><circle cx="270.6" cy="137.4" r="2.3"/><circle cx="272.3" cy="129.2" r="2.3"/><circle cx="273.9" cy="133.7" r="2.3"/><circle cx="275.6" cy="131.3" r="2.3"/><circle cx="277.3" cy="133.1" r="2.3"/><circle cx="279.0" cy="143.1" r="2.3"/><circle cx="280.7" cy="144.5" r="2.3"/><circle cx="282.4" cy="139.3" r="2.3"/><circle cx="284.1" cy="138.5" r="2.3"/><circle cx="285.8" cy="139.4" r="2.3"/><circle cx="287.4" cy="135.1" r="2.3"/><circle cx="289.1" cy="134.8" r="2.3"/><circle cx="290.8" cy="131.1" r="2.3"/><circle cx="292.5" cy="135.0" r="2.3"/><circle cx="294.2" cy="149.4" r="2.3"/><circle cx="295.9" cy="140.8" r="2.3"/><circle cx="297.6" cy="133.3" r="2.3"/><circle cx="299.2" cy="132.6" r="2.3"/><circle cx="300.9" cy="130.2" r="2.3"/><circle cx="302.6" cy="137.9" r="2.3"/><circle cx="304.3" cy="138.1" r="2.3"/><circle cx="306.0" cy="126.8" r="2.3"/><circle cx="307.7" cy="138.8" r="2.3"/><circle cx="309.4" cy="132.3" r="2.3"/><circle cx="311.0" cy="144.7" r="2.3"/><circle cx="312.7" cy="136.9" r="2.3"/><circle cx="314.4" cy="146.6" r="2.3"/><circle cx="316.1" cy="133.2" r="2.3"/><circle cx="317.8" cy="134.3" r="2.3"/><circle cx="319.5" cy="138.0" r="2.3"/><circle cx="321.2" cy="142.7" r="2.3"/><circle cx="322.8" cy="139.7" r="2.3"/><circle cx="324.5" cy="128.6" r="2.3"/><circle cx="326.2" cy="137.5" r="2.3"/><circle cx="327.9" cy="136.6" r="2.3"/><circle cx="329.6" cy="133.8" r="2.3"/><circle cx="331.3" cy="132.5" r="2.3"/><circle cx="333.0" cy="147.5" r="2.3"/><circle cx="334.7" cy="134.3" r="2.3"/><circle cx="336.3" cy="131.5" r="2.3"/><circle cx="338.0" cy="140.8" r="2.3"/><circle cx="339.7" cy="137.7" r="2.3"/><circle cx="341.4" cy="136.5" r="2.3"/><circle cx="343.1" cy="141.9" r="2.3"/><circle cx="344.8" cy="140.2" r="2.3"/><circle cx="346.5" cy="139.5" r="2.3"/><circle cx="348.1" cy="143.3" r="2.3"/><circle cx="349.8" cy="139.1" r="2.3"/><circle cx="351.5" cy="133.6" r="2.3"/><circle cx="353.2" cy="135.3" r="2.3"/><circle cx="354.9" cy="134.4" r="2.3"/><circle cx="356.6" cy="139.0" r="2.3"/><circle cx="358.3" cy="131.1" r="2.3"/><circle cx="359.9" cy="126.6" r="2.3"/><circle cx="361.6" cy="138.6" r="2.3"/><circle cx="363.3" cy="129.8" r="2.3"/><circle cx="365.0" cy="126.1" r="2.3"/><circle cx="366.7" cy="140.7" r="2.3"/><circle cx="368.4" cy="134.0" r="2.3"/><circle cx="370.1" cy="141.6" r="2.3"/><circle cx="371.8" cy="135.4" r="2.3"/><circle cx="373.4" cy="131.9" r="2.3"/><circle cx="375.1" cy="131.2" r="2.3"/><circle cx="376.8" cy="135.9" r="2.3"/><circle cx="378.5" cy="137.5" r="2.3"/><circle cx="380.2" cy="134.2" r="2.3"/><circle cx="381.9" cy="137.7" r="2.3"/><circle cx="383.6" cy="130.1" r="2.3"/><circle cx="385.2" cy="139.9" r="2.3"/><circle cx="386.9" cy="128.8" r="2.3"/><circle cx="388.6" cy="138.9" r="2.3"/><circle cx="390.3" cy="144.6" r="2.3"/><circle cx="392.0" cy="147.2" r="2.3"/><circle cx="393.7" cy="151.2" r="2.3"/><circle cx="395.4" cy="131.1" r="2.3"/><circle cx="397.0" cy="145.6" r="2.3"/><circle cx="398.7" cy="148.6" r="2.3"/><circle cx="400.4" cy="147.4" r="2.3"/><circle cx="402.1" cy="135.8" r="2.3"/><circle cx="403.8" cy="144.3" r="2.3"/><circle cx="405.5" cy="153.5" r="2.3"/><circle cx="407.2" cy="132.9" r="2.3"/><circle cx="408.8" cy="145.4" r="2.3"/><circle cx="410.5" cy="149.6" r="2.3"/><circle cx="412.2" cy="138.6" r="2.3"/><circle cx="413.9" cy="146.8" r="2.3"/><circle cx="415.6" cy="136.8" r="2.3"/><circle cx="417.3" cy="138.7" r="2.3"/><circle cx="419.0" cy="139.0" r="2.3"/><circle cx="420.7" cy="145.5" r="2.3"/><circle cx="422.3" cy="144.1" r="2.3"/><circle cx="424.0" cy="150.9" r="2.3"/><circle cx="425.7" cy="139.5" r="2.3"/><circle cx="427.4" cy="144.9" r="2.3"/><circle cx="429.1" cy="152.0" r="2.3"/><circle cx="430.8" cy="149.9" r="2.3"/><circle cx="432.5" cy="138.7" r="2.3"/><circle cx="434.1" cy="151.4" r="2.3"/><circle cx="435.8" cy="144.8" r="2.3"/><circle cx="437.5" cy="150.6" r="2.3"/><circle cx="439.2" cy="150.6" r="2.3"/><circle cx="440.9" cy="156.8" r="2.3"/><circle cx="442.6" cy="150.5" r="2.3"/><circle cx="444.3" cy="138.9" r="2.3"/><circle cx="445.9" cy="142.5" r="2.3"/><circle cx="447.6" cy="156.2" r="2.3"/><circle cx="449.3" cy="150.7" r="2.3"/><circle cx="451.0" cy="160.1" r="2.3"/><circle cx="452.7" cy="155.5" r="2.3"/><circle cx="454.4" cy="150.0" r="2.3"/><circle cx="456.1" cy="162.2" r="2.3"/><circle cx="457.8" cy="151.4" r="2.3"/><circle cx="459.4" cy="144.7" r="2.3"/><circle cx="461.1" cy="171.2" r="2.3"/><circle cx="462.8" cy="147.7" r="2.3"/><circle cx="464.5" cy="164.7" r="2.3"/><circle cx="466.2" cy="167.8" r="2.3"/><circle cx="467.9" cy="164.3" r="2.3"/><circle cx="469.6" cy="154.4" r="2.3"/><circle cx="471.2" cy="172.7" r="2.3"/><circle cx="472.9" cy="159.2" r="2.3"/><circle cx="474.6" cy="161.7" r="2.3"/><circle cx="476.3" cy="169.8" r="2.3"/><circle cx="478.0" cy="179.1" r="2.3"/><circle cx="479.7" cy="178.5" r="2.3"/><circle cx="481.4" cy="184.3" r="2.3"/><circle cx="483.0" cy="179.4" r="2.3"/><circle cx="484.7" cy="184.2" r="2.3"/><circle cx="486.4" cy="181.7" r="2.3"/><circle cx="488.1" cy="190.6" r="2.3"/><circle cx="489.8" cy="200.4" r="2.3"/><circle cx="491.5" cy="199.6" r="2.3"/><circle cx="493.2" cy="209.5" r="2.3"/><circle cx="494.8" cy="208.7" r="2.3"/><circle cx="496.5" cy="215.0" r="2.3"/><circle cx="498.2" cy="225.9" r="2.3"/><circle cx="499.9" cy="232.2" r="2.3"/><circle cx="501.6" cy="245.5" r="2.3"/><circle cx="503.3" cy="252.2" r="2.3"/><circle cx="505.0" cy="271.9" r="2.3"/><circle cx="506.7" cy="270.3" r="2.3"/><circle cx="508.3" cy="281.3" r="2.3"/><circle cx="510.0" cy="287.4" r="2.3"/><circle cx="511.7" cy="304.7" r="2.3"/><circle cx="513.4" cy="318.7" r="2.3"/><circle cx="515.1" cy="318.6" r="2.3"/><circle cx="516.8" cy="329.3" r="2.3"/><circle cx="518.5" cy="338.1" r="2.3"/><circle cx="520.1" cy="334.6" r="2.3"/><circle cx="521.8" cy="331.4" r="2.3"/><circle cx="523.5" cy="337.5" r="2.3"/><circle cx="525.2" cy="328.0" r="2.3"/><circle cx="526.9" cy="324.6" r="2.3"/><circle cx="528.6" cy="323.8" r="2.3"/><circle cx="530.3" cy="318.5" r="2.3"/><circle cx="531.9" cy="305.3" r="2.3"/><circle cx="533.6" cy="300.8" r="2.3"/><circle cx="535.3" cy="303.3" r="2.3"/><circle cx="537.0" cy="299.9" r="2.3"/><circle cx="538.7" cy="290.0" r="2.3"/><circle cx="540.4" cy="310.3" r="2.3"/><circle cx="542.1" cy="306.3" r="2.3"/><circle cx="543.8" cy="315.1" r="2.3"/><circle cx="545.4" cy="310.2" r="2.3"/><circle cx="547.1" cy="331.5" r="2.3"/><circle cx="548.8" cy="329.3" r="2.3"/><circle cx="550.5" cy="341.4" r="2.3"/><circle cx="552.2" cy="344.2" r="2.3"/><circle cx="553.9" cy="361.8" r="2.3"/><circle cx="555.6" cy="372.1" r="2.3"/><circle cx="557.2" cy="383.0" r="2.3"/><circle cx="558.9" cy="396.9" r="2.3"/><circle cx="560.6" cy="404.8" r="2.3"/><circle cx="562.3" cy="419.4" r="2.3"/><circle cx="564.0" cy="420.3" r="2.3"/><circle cx="565.7" cy="425.3" r="2.3"/><circle cx="567.4" cy="437.2" r="2.3"/><circle cx="569.0" cy="445.3" r="2.3"/><circle cx="570.7" cy="450.8" r="2.3"/><circle cx="572.4" cy="447.9" r="2.3"/><circle cx="574.1" cy="430.6" r="2.3"/><circle cx="575.8" cy="436.3" r="2.3"/><circle cx="577.5" cy="434.1" r="2.3"/><circle cx="579.2" cy="417.5" r="2.3"/><circle cx="580.8" cy="404.9" r="2.3"/><circle cx="582.5" cy="400.0" r="2.3"/><circle cx="584.2" cy="387.4" r="2.3"/><circle cx="585.9" cy="386.4" r="2.3"/><circle cx="587.6" cy="377.6" r="2.3"/><circle cx="589.3" cy="381.3" r="2.3"/><circle cx="591.0" cy="374.8" r="2.3"/><circle cx="592.7" cy="368.3" r="2.3"/><circle cx="594.3" cy="376.4" r="2.3"/><circle cx="596.0" cy="380.7" r="2.3"/><circle cx="597.7" cy="376.5" r="2.3"/><circle cx="599.4" cy="381.4" r="2.3"/><circle cx="601.1" cy="376.5" r="2.3"/><circle cx="602.8" cy="397.6" r="2.3"/><circle cx="604.5" cy="395.1" r="2.3"/><circle cx="606.1" cy="392.7" r="2.3"/><circle cx="607.8" cy="400.2" r="2.3"/><circle cx="609.5" cy="414.2" r="2.3"/><circle cx="611.2" cy="426.1" r="2.3"/><circle cx="612.9" cy="429.6" r="2.3"/><circle cx="614.6" cy="440.5" r="2.3"/><circle cx="616.3" cy="441.0" r="2.3"/><circle cx="617.9" cy="447.5" r="2.3"/><circle cx="619.6" cy="464.7" r="2.3"/><circle cx="621.3" cy="467.4" r="2.3"/><circle cx="623.0" cy="467.1" r="2.3"/><circle cx="624.7" cy="473.4" r="2.3"/><circle cx="626.4" cy="460.5" r="2.3"/><circle cx="628.1" cy="459.2" r="2.3"/><circle cx="629.8" cy="461.3" r="2.3"/><circle cx="631.4" cy="459.7" r="2.3"/><circle cx="633.1" cy="445.7" r="2.3"/><circle cx="634.8" cy="448.0" r="2.3"/><circle cx="636.5" cy="431.6" r="2.3"/><circle cx="638.2" cy="429.6" r="2.3"/><circle cx="639.9" cy="419.9" r="2.3"/><circle cx="641.6" cy="404.6" r="2.3"/><circle cx="643.2" cy="402.5" r="2.3"/><circle cx="644.9" cy="393.2" r="2.3"/><circle cx="646.6" cy="374.6" r="2.3"/><circle cx="648.3" cy="360.2" r="2.3"/><circle cx="650.0" cy="351.5" r="2.3"/><circle cx="651.7" cy="324.4" r="2.3"/><circle cx="653.4" cy="308.5" r="2.3"/><circle cx="655.0" cy="298.1" r="2.3"/><circle cx="656.7" cy="282.5" r="2.3"/><circle cx="658.4" cy="281.5" r="2.3"/><circle cx="660.1" cy="265.7" r="2.3"/><circle cx="661.8" cy="250.4" r="2.3"/><circle cx="663.5" cy="242.2" r="2.3"/><circle cx="665.2" cy="249.2" r="2.3"/><circle cx="666.8" cy="226.4" r="2.3"/><circle cx="668.5" cy="218.9" r="2.3"/><circle cx="670.2" cy="217.4" r="2.3"/><circle cx="671.9" cy="213.3" r="2.3"/><circle cx="673.6" cy="206.5" r="2.3"/><circle cx="675.3" cy="196.9" r="2.3"/><circle cx="677.0" cy="191.6" r="2.3"/><circle cx="678.7" cy="195.6" r="2.3"/><circle cx="680.3" cy="189.2" r="2.3"/><circle cx="682.0" cy="179.1" r="2.3"/><circle cx="683.7" cy="188.5" r="2.3"/><circle cx="685.4" cy="184.1" r="2.3"/><circle cx="687.1" cy="177.2" r="2.3"/><circle cx="688.8" cy="174.8" r="2.3"/><circle cx="690.5" cy="174.9" r="2.3"/><circle cx="692.1" cy="168.9" r="2.3"/><circle cx="693.8" cy="164.1" r="2.3"/><circle cx="695.5" cy="169.8" r="2.3"/><circle cx="697.2" cy="160.5" r="2.3"/><circle cx="698.9" cy="167.1" r="2.3"/><circle cx="700.6" cy="157.6" r="2.3"/><circle cx="702.3" cy="162.2" r="2.3"/><circle cx="703.9" cy="160.9" r="2.3"/><circle cx="705.6" cy="168.2" r="2.3"/><circle cx="707.3" cy="154.6" r="2.3"/><circle cx="709.0" cy="152.0" r="2.3"/><circle cx="710.7" cy="154.5" r="2.3"/><circle cx="712.4" cy="151.5" r="2.3"/><circle cx="714.1" cy="153.0" r="2.3"/><circle cx="715.8" cy="156.6" r="2.3"/><circle cx="717.4" cy="157.4" r="2.3"/><circle cx="719.1" cy="160.6" r="2.3"/><circle cx="720.8" cy="149.4" r="2.3"/><circle cx="722.5" cy="163.6" r="2.3"/><circle cx="724.2" cy="160.1" r="2.3"/><circle cx="725.9" cy="149.9" r="2.3"/><circle cx="727.6" cy="140.1" r="2.3"/><circle cx="729.2" cy="149.3" r="2.3"/><circle cx="730.9" cy="149.5" r="2.3"/><circle cx="732.6" cy="138.6" r="2.3"/><circle cx="734.3" cy="148.6" r="2.3"/><circle cx="736.0" cy="146.9" r="2.3"/><circle cx="737.7" cy="143.9" r="2.3"/><circle cx="739.4" cy="149.7" r="2.3"/><circle cx="741.0" cy="151.0" r="2.3"/><circle cx="742.7" cy="144.1" r="2.3"/><circle cx="744.4" cy="146.8" r="2.3"/><circle cx="746.1" cy="142.6" r="2.3"/><circle cx="747.8" cy="141.7" r="2.3"/><circle cx="749.5" cy="145.2" r="2.3"/><circle cx="751.2" cy="146.8" r="2.3"/><circle cx="752.8" cy="141.8" r="2.3"/><circle cx="754.5" cy="134.2" r="2.3"/><circle cx="756.2" cy="146.3" r="2.3"/><circle cx="757.9" cy="136.4" r="2.3"/><circle cx="759.6" cy="143.7" r="2.3"/><circle cx="761.3" cy="150.7" r="2.3"/><circle cx="763.0" cy="142.6" r="2.3"/><circle cx="764.7" cy="137.2" r="2.3"/><circle cx="766.3" cy="135.8" r="2.3"/><circle cx="768.0" cy="147.2" r="2.3"/><circle cx="769.7" cy="141.7" r="2.3"/><circle cx="771.4" cy="144.0" r="2.3"/><circle cx="773.1" cy="145.5" r="2.3"/><circle cx="774.8" cy="141.0" r="2.3"/><circle cx="776.5" cy="139.7" r="2.3"/><circle cx="778.1" cy="136.7" r="2.3"/><circle cx="779.8" cy="127.1" r="2.3"/><circle cx="781.5" cy="133.9" r="2.3"/><circle cx="783.2" cy="140.1" r="2.3"/><circle cx="784.9" cy="139.4" r="2.3"/><circle cx="786.6" cy="141.8" r="2.3"/><circle cx="788.3" cy="139.4" r="2.3"/><circle cx="789.9" cy="140.5" r="2.3"/><circle cx="791.6" cy="143.1" r="2.3"/><circle cx="793.3" cy="135.6" r="2.3"/><circle cx="795.0" cy="138.1" r="2.3"/><circle cx="796.7" cy="132.2" r="2.3"/><circle cx="798.4" cy="143.4" r="2.3"/><circle cx="800.1" cy="139.2" r="2.3"/><circle cx="801.8" cy="141.0" r="2.3"/><circle cx="803.4" cy="145.6" r="2.3"/><circle cx="805.1" cy="143.4" r="2.3"/><circle cx="806.8" cy="138.3" r="2.3"/><circle cx="808.5" cy="141.9" r="2.3"/><circle cx="810.2" cy="132.1" r="2.3"/><circle cx="811.9" cy="140.2" r="2.3"/><circle cx="813.6" cy="138.8" r="2.3"/><circle cx="815.2" cy="130.9" r="2.3"/><circle cx="816.9" cy="143.9" r="2.3"/><circle cx="818.6" cy="134.8" r="2.3"/><circle cx="820.3" cy="140.8" r="2.3"/><circle cx="822.0" cy="135.9" r="2.3"/><circle cx="823.7" cy="142.0" r="2.3"/><circle cx="825.4" cy="143.3" r="2.3"/><circle cx="827.0" cy="133.8" r="2.3"/><circle cx="828.7" cy="130.6" r="2.3"/><circle cx="830.4" cy="136.7" r="2.3"/><circle cx="832.1" cy="141.0" r="2.3"/><circle cx="833.8" cy="135.5" r="2.3"/><circle cx="835.5" cy="134.4" r="2.3"/><circle cx="837.2" cy="139.2" r="2.3"/><circle cx="838.8" cy="124.8" r="2.3"/><circle cx="840.5" cy="134.0" r="2.3"/><circle cx="842.2" cy="130.7" r="2.3"/><circle cx="843.9" cy="138.1" r="2.3"/><circle cx="845.6" cy="133.5" r="2.3"/><circle cx="847.3" cy="131.7" r="2.3"/><circle cx="849.0" cy="135.0" r="2.3"/><circle cx="850.7" cy="130.1" r="2.3"/><circle cx="852.3" cy="136.4" r="2.3"/><circle cx="854.0" cy="133.4" r="2.3"/><circle cx="855.7" cy="134.7" r="2.3"/><circle cx="857.4" cy="133.1" r="2.3"/><circle cx="859.1" cy="140.3" r="2.3"/><circle cx="860.8" cy="135.7" r="2.3"/><circle cx="862.5" cy="138.4" r="2.3"/><circle cx="864.1" cy="138.2" r="2.3"/><circle cx="865.8" cy="132.5" r="2.3"/><circle cx="867.5" cy="138.5" r="2.3"/><circle cx="869.2" cy="137.5" r="2.3"/><circle cx="870.9" cy="137.3" r="2.3"/><circle cx="872.6" cy="134.1" r="2.3"/><circle cx="874.3" cy="133.9" r="2.3"/><circle cx="875.9" cy="139.2" r="2.3"/><circle cx="877.6" cy="145.3" r="2.3"/><circle cx="879.3" cy="132.0" r="2.3"/><circle cx="881.0" cy="138.0" r="2.3"/><circle cx="882.7" cy="134.0" r="2.3"/><circle cx="884.4" cy="139.0" r="2.3"/><circle cx="886.1" cy="137.5" r="2.3"/><circle cx="887.8" cy="140.2" r="2.3"/><circle cx="889.4" cy="123.2" r="2.3"/><circle cx="891.1" cy="132.8" r="2.3"/><circle cx="892.8" cy="131.0" r="2.3"/><circle cx="894.5" cy="134.9" r="2.3"/><circle cx="896.2" cy="132.1" r="2.3"/><circle cx="897.9" cy="132.5" r="2.3"/><circle cx="899.6" cy="138.2" r="2.3"/><circle cx="901.2" cy="143.6" r="2.3"/><circle cx="902.9" cy="122.8" r="2.3"/><circle cx="904.6" cy="133.8" r="2.3"/><circle cx="906.3" cy="136.5" r="2.3"/><circle cx="908.0" cy="135.1" r="2.3"/><circle cx="909.7" cy="133.5" r="2.3"/><circle cx="911.4" cy="129.1" r="2.3"/><circle cx="913.0" cy="130.9" r="2.3"/><circle cx="914.7" cy="138.2" r="2.3"/><circle cx="916.4" cy="139.7" r="2.3"/><circle cx="918.1" cy="135.3" r="2.3"/><circle cx="919.8" cy="131.2" r="2.3"/><circle cx="921.5" cy="135.3" r="2.3"/><circle cx="923.2" cy="133.8" r="2.3"/><circle cx="924.8" cy="137.2" r="2.3"/><circle cx="926.5" cy="135.3" r="2.3"/><circle cx="928.2" cy="132.0" r="2.3"/><circle cx="929.9" cy="135.6" r="2.3"/><circle cx="931.6" cy="129.5" r="2.3"/><circle cx="933.3" cy="138.3" r="2.3"/><circle cx="935.0" cy="139.9" r="2.3"/><circle cx="936.7" cy="129.5" r="2.3"/><circle cx="938.3" cy="136.5" r="2.3"/><circle cx="940.0" cy="130.2" r="2.3"/><circle cx="941.7" cy="139.3" r="2.3"/><circle cx="943.4" cy="138.5" r="2.3"/><circle cx="945.1" cy="133.5" r="2.3"/><circle cx="946.8" cy="138.9" r="2.3"/><circle cx="948.5" cy="132.6" r="2.3"/><circle cx="950.1" cy="131.6" r="2.3"/><circle cx="951.8" cy="132.0" r="2.3"/><circle cx="953.5" cy="133.8" r="2.3"/><circle cx="955.2" cy="133.0" r="2.3"/><circle cx="956.9" cy="135.1" r="2.3"/><circle cx="958.6" cy="131.7" r="2.3"/><circle cx="960.3" cy="137.7" r="2.3"/><circle cx="961.9" cy="138.8" r="2.3"/><circle cx="963.6" cy="132.1" r="2.3"/><circle cx="965.3" cy="128.0" r="2.3"/><circle cx="967.0" cy="137.5" r="2.3"/><circle cx="968.7" cy="139.3" r="2.3"/><circle cx="970.4" cy="133.5" r="2.3"/><circle cx="972.1" cy="128.6" r="2.3"/><circle cx="973.8" cy="135.4" r="2.3"/><circle cx="975.4" cy="140.9" r="2.3"/><circle cx="977.1" cy="125.9" r="2.3"/><circle cx="978.8" cy="136.3" r="2.3"/><circle cx="980.5" cy="132.8" r="2.3"/><circle cx="982.2" cy="130.4" r="2.3"/><circle cx="983.9" cy="136.3" r="2.3"/><circle cx="985.6" cy="128.4" r="2.3"/><circle cx="987.2" cy="135.4" r="2.3"/><circle cx="988.9" cy="139.9" r="2.3"/><circle cx="990.6" cy="134.8" r="2.3"/><circle cx="992.3" cy="130.2" r="2.3"/><circle cx="994.0" cy="126.2" r="2.3"/></g>
<polyline points="132.30,133.26 132.80,133.26 133.30,133.27 133.80,133.27 134.30,133.27 134.80,133.28 135.30,133.28 135.80,133.28 136.30,133.29 136.80,133.29 137.30,133.29 137.80,133.30 138.30,133.30 138.80,133.30 139.30,133.31 139.80,133.31 140.30,133.31 140.80,133.32 141.30,133.32 141.80,133.32 142.30,133.33 142.80,133.33 143.30,133.33 143.80,133.34 144.30,133.34 144.80,133.34 145.30,133.35 145.80,133.35 146.30,133.36 146.79,133.36 147.29,133.36 147.79,133.37 148.29,133.37 148.79,133.37 149.29,133.38 149.79,133.38 150.29,133.38 150.79,133.39 151.29,133.39 151.79,133.40 152.29,133.40 152.79,133.40 153.29,133.41 153.79,133.41 154.29,133.41 154.79,133.42 155.29,133.42 155.79,133.43 156.29,133.43 156.79,133.43 157.29,133.44 157.79,133.44 158.29,133.45 158.79,133.45 159.29,133.45 159.79,133.46 160.29,133.46 160.79,133.47 161.29,133.47 161.79,133.47 162.29,133.48 162.79,133.48 163.29,133.49 163.79,133.49 164.29,133.49 164.79,133.50 165.29,133.50 165.79,133.51 166.29,133.51 166.79,133.51 167.29,133.52 167.79,133.52 168.29,133.53 168.79,133.53 169.29,133.54 169.79,133.54 170.29,133.54 170.79,133.55 171.29,133.55 171.79,133.56 172.29,133.56 172.79,133.57 173.29,133.57 173.79,133.57 174.29,133.58 174.79,133.58 175.29,133.59 175.78,133.59 176.28,133.60 176.78,133.60 177.28,133.61 177.78,133.61 178.28,133.61 178.78,133.62 179.28,133.62 179.78,133.63 180.28,133.63 180.78,133.64 181.28,133.64 181.78,133.65 182.28,133.65 182.78,133.66 183.28,133.66 183.78,133.67 184.28,133.67 184.78,133.67 185.28,133.68 185.78,133.68 186.28,133.69 186.78,133.69 187.28,133.70 187.78,133.70 188.28,133.71 188.78,133.71 189.28,133.72 189.78,133.72 190.28,133.73 190.78,133.73 191.28,133.74 191.78,133.74 192.28,133.75 192.78,133.75 193.28,133.76 193.78,133.76 194.28,133.77 194.78,133.77 195.28,133.78 195.78,133.78 196.28,133.79 196.78,133.79 197.28,133.80 197.78,133.80 198.28,133.81 198.78,133.81 199.28,133.82 199.78,133.82 200.28,133.83 200.78,133.84 201.28,133.84 201.78,133.85 202.28,133.85 202.78,133.86 203.28,133.86 203.78,133.87 204.27,133.87 204.77,133.88 205.27,133.88 205.77,133.89 206.27,133.90 206.77,133.90 207.27,133.91 207.77,133.91 208.27,133.92 208.77,133.92 209.27,133.93 209.77,133.94 210.27,133.94 210.77,133.95 211.27,133.95 211.77,133.96 212.27,133.96 212.77,133.97 213.27,133.98 213.77,133.98 214.27,133.99 214.77,133.99 215.27,134.00 215.77,134.01 216.27,134.01 216.77,134.02 217.27,134.02 217.77,134.03 218.27,134.04 218.77,134.04 219.27,134.05 219.77,134.05 220.27,134.06 220.77,134.07 221.27,134.07 221.77,134.08 222.27,134.09 222.77,134.09 223.27,134.10 223.77,134.11 224.27,134.11 224.77,134.12 225.27,134.12 225.77,134.13 226.27,134.14 226.77,134.14 227.27,134.15 227.77,134.16 228.27,134.16 228.77,134.17 229.27,134.18 229.77,134.18 230.27,134.19 230.77,134.20 231.27,134.21 231.77,134.21 232.27,134.22 232.77,134.23 233.26,134.23 233.76,134.24 234.26,134.25 234.76,134.25 235.26,134.26 235.76,134.27 236.26,134.28 236.76,134.28 237.26,134.29 237.76,134.30 238.26,134.30 238.76,134.31 239.26,134.32 239.76,134.33 240.26,134.33 240.76,134.34 241.26,134.35 241.76,134.36 242.26,134.36 242.76,134.37 243.26,134.38 243.76,134.39 244.26,134.39 244.76,134.40 245.26,134.41 245.76,134.42 246.26,134.43 246.76,134.43 247.26,134.44 247.76,134.45 248.26,134.46 248.76,134.46 249.26,134.47 249.76,134.48 250.26,134.49 250.76,134.50 251.26,134.51 251.76,134.51 252.26,134.52 252.76,134.53 253.26,134.54 253.76,134.55 254.26,134.56 254.76,134.56 255.26,134.57 255.76,134.58 256.26,134.59 256.76,134.60 257.26,134.61 257.76,134.62 258.26,134.62 258.76,134.63 259.26,134.64 259.76,134.65 260.26,134.66 260.76,134.67 261.26,134.68 261.76,134.69 262.25,134.70 262.75,134.70 263.25,134.71 263.75,134.72 264.25,134.73 264.75,134.74 265.25,134.75 265.75,134.76 266.25,134.77 266.75,134.78 267.25,134.79 267.75,134.80 268.25,134.81 268.75,134.82 269.25,134.83 269.75,134.84 270.25,134.85 270.75,134.86 271.25,134.87 271.75,134.88 272.25,134.89 272.75,134.90 273.25,134.91 273.75,134.92 274.25,134.93 274.75,134.94 275.25,134.95 275.75,134.96 276.25,134.97 276.75,134.98 277.25,134.99 277.75,135.00 278.25,135.01 278.75,135.02 279.25,135.03 279.75,135.04 280.25,135.05 280.75,135.06 281.25,135.08 281.75,135.09 282.25,135.10 282.75,135.11 283.25,135.12 283.75,135.13 284.25,135.14 284.75,135.15 285.25,135.16 285.75,135.18 286.25,135.19 286.75,135.20 287.25,135.21 287.75,135.22 288.25,135.23 288.75,135.25 289.25,135.26 289.75,135.27 290.25,135.28 290.74,135.29 291.24,135.31 291.74,135.32 292.24,135.33 292.74,135.34 293.24,135.36 293.74,135.37 294.24,135.38 294.74,135.39 295.24,135.41 295.74,135.42 296.24,135.43 296.74,135.45 297.24,135.46 297.74,135.47 298.24,135.48 298.74,135.50 299.24,135.51 299.74,135.52 300.24,135.54 300.74,135.55 301.24,135.57 301.74,135.58 302.24,135.59 302.74,135.61 303.24,135.62 303.74,135.63 304.24,135.65 304.74,135.66 305.24,135.68 305.74,135.69 306.24,135.71 306.74,135.72 307.24,135.73 307.74,135.75 308.24,135.76 308.74,135.78 309.24,135.79 309.74,135.81 310.24,135.82 310.74,135.84 311.24,135.85 311.74,135.87 312.24,135.89 312.74,135.90 313.24,135.92 313.74,135.93 314.24,135.95 314.74,135.96 315.24,135.98 315.74,136.00 316.24,136.01 316.74,136.03 317.24,136.04 317.74,136.06 318.24,136.08 318.74,136.09 319.24,136.11 319.73,136.13 320.23,136.15 320.73,136.16 321.23,136.18 321.73,136.20 322.23,136.21 322.73,136.23 323.23,136.25 323.73,136.27 324.23,136.29 324.73,136.30 325.23,136.32 325.73,136.34 326.23,136.36 326.73,136.38 327.23,136.40 327.73,136.41 328.23,136.43 328.73,136.45 329.23,136.47 329.73,136.49 330.23,136.51 330.73,136.53 331.23,136.55 331.73,136.57 332.23,136.59 332.73,136.61 333.23,136.63 333.73,136.65 334.23,136.67 334.73,136.69 335.23,136.71 335.73,136.73 336.23,136.75 336.73,136.77 337.23,136.79 337.73,136.81 338.23,136.84 338.73,136.86 339.23,136.88 339.73,136.90 340.23,136.92 340.73,136.95 341.23,136.97 341.73,136.99 342.23,137.01 342.73,137.04 343.23,137.06 343.73,137.08 344.23,137.10 344.73,137.13 345.23,137.15 345.73,137.18 346.23,137.20 346.73,137.22 347.23,137.25 347.73,137.27 348.23,137.30 348.72,137.32 349.22,137.35 349.72,137.37 350.22,137.40 350.72,137.42 351.22,137.45 351.72,137.47 352.22,137.50 352.72,137.53 353.22,137.55 353.72,137.58 354.22,137.61 354.72,137.63 355.22,137.66 355.72,137.69 356.22,137.72 356.72,137.74 357.22,137.77 357.72,137.80 358.22,137.83 358.72,137.86 359.22,137.89 359.72,137.92 360.22,137.95 360.72,137.97 361.22,138.00 361.72,138.03 362.22,138.06 362.72,138.10 363.22,138.13 363.72,138.16 364.22,138.19 364.72,138.22 365.22,138.25 365.72,138.28 366.22,138.32 366.72,138.35 367.22,138.38 367.72,138.41 368.22,138.45 368.72,138.48 369.22,138.51 369.72,138.55 370.22,138.58 370.72,138.62 371.22,138.65 371.72,138.69 372.22,138.72 372.72,138.76 373.22,138.80 373.72,138.83 374.22,138.87 374.72,138.91 375.22,138.94 375.72,138.98 376.22,139.02 376.72,139.06 377.21,139.10 377.71,139.13 378.21,139.17 378.71,139.21 379.21,139.25 379.71,139.29 380.21,139.33 380.71,139.37 381.21,139.42 381.71,139.46 382.21,139.50 382.71,139.54 383.21,139.58 383.71,139.63 384.21,139.67 384.71,139.72 385.21,139.76 385.71,139.80 386.21,139.85 386.71,139.90 387.21,139.94 387.71,139.99 388.21,140.03 388.71,140.08 389.21,140.13 389.71,140.18 390.21,140.23 390.71,140.28 391.21,140.32 391.71,140.37 392.21,140.42 392.71,140.48 393.21,140.53 393.71,140.58 394.21,140.63 394.71,140.68 395.21,140.74 395.71,140.79 396.21,140.85 396.71,140.90 397.21,140.96 397.71,141.01 398.21,141.07 398.71,141.13 399.21,141.18 399.71,141.24 400.21,141.30 400.71,141.36 401.21,141.42 401.71,141.48 402.21,141.54 402.71,141.60 403.21,141.67 403.71,141.73 404.21,141.79 404.71,141.86 405.21,141.92 405.71,141.99 406.20,142.06 406.70,142.12 407.20,142.19 407.70,142.26 408.20,142.33 408.70,142.40 409.20,142.47 409.70,142.54 410.20,142.62 410.70,142.69 411.20,142.76 411.70,142.84 412.20,142.91 412.70,142.99 413.20,143.07 413.70,143.15 414.20,143.23 414.70,143.31 415.20,143.39 415.70,143.47 416.20,143.55 416.70,143.64 417.20,143.72 417.70,143.81 418.20,143.89 418.70,143.98 419.20,144.07 419.70,144.16 420.20,144.25 420.70,144.34 421.20,144.44 421.70,144.53 422.20,144.63 422.70,144.73 423.20,144.82 423.70,144.92 424.20,145.02 424.70,145.12 425.20,145.23 425.70,145.33 426.20,145.44 426.70,145.54 427.20,145.65 427.70,145.76 428.20,145.87 428.70,145.99 429.20,146.10 429.70,146.22 430.20,146.33 430.70,146.45 431.20,146.57 431.70,146.69 432.20,146.82 432.70,146.94 433.20,147.07 433.70,147.20 434.20,147.33 434.69,147.46 435.19,147.60 435.69,147.73 436.19,147.87 436.69,148.01 437.19,148.15 437.69,148.30 438.19,148.44 438.69,148.59 439.19,148.74 439.69,148.89 440.19,149.05 440.69,149.21 441.19,149.37 441.69,149.53 442.19,149.69 442.69,149.86 443.19,150.03 443.69,150.20 444.19,150.38 444.69,150.56 445.19,150.74 445.69,150.92 446.19,151.11 446.69,151.29 447.19,151.49 447.69,151.68 448.19,151.88 448.69,152.08 449.19,152.29 449.69,152.50 450.19,152.71 450.69,152.93 451.19,153.15 451.69,153.37 452.19,153.60 452.69,153.83 453.19,154.06 453.69,154.30 454.19,154.55 454.69,154.80 455.19,155.05 455.69,155.31 456.19,155.57 456.69,155.83 457.19,156.11 457.69,156.38 458.19,156.66 458.69,156.95 459.19,157.24 459.69,157.54 460.19,157.85 460.69,158.16 461.19,158.47 461.69,158.80 462.19,159.13 462.69,159.46 463.19,159.80 463.68,160.15 464.18,160.51 464.68,160.88 465.18,161.25 465.68,161.63 466.18,162.02 466.68,162.41 467.18,162.82 467.68,163.23 468.18,163.65 468.68,164.08 469.18,164.53 469.68,164.98 470.18,165.44 470.68,165.91 471.18,166.39 471.68,166.89 472.18,167.39 472.68,167.91 473.18,168.44 473.68,168.98 474.18,169.54 474.68,170.11 475.18,170.69 475.68,171.29 476.18,171.90 476.68,172.53 477.18,173.18 477.68,173.84 478.18,174.51 478.68,175.21 479.18,175.92 479.68,176.65 480.18,177.41 480.68,178.18 481.18,178.97 481.68,179.79 482.18,180.62 482.68,181.48 483.18,182.36 483.68,183.27 484.18,184.21 484.68,185.17 485.18,186.16 485.68,187.17 486.18,188.22 486.68,189.29 487.18,190.40 487.68,191.54 488.18,192.72 488.68,193.93 489.18,195.17 489.68,196.46 490.18,197.78 490.68,199.14 491.18,200.55 491.68,202.00 492.17,203.49 492.67,205.03 493.17,206.61 493.67,208.25 494.17,209.94 494.67,211.67 495.17,213.46 495.67,215.31 496.17,217.21 496.67,219.18 497.17,221.20 497.67,223.28 498.17,225.42 498.67,227.63 499.17,229.90 499.67,232.24 500.17,234.65 500.67,237.12 501.17,239.66 501.67,242.27 502.17,244.94 502.67,247.68 503.17,250.49 503.67,253.36 504.17,256.29 504.67,259.29 505.17,262.34 505.67,265.44 506.17,268.59 506.67,271.79 507.17,275.02 507.67,278.28 508.17,281.57 508.67,284.87 509.17,288.17 509.67,291.46 510.17,294.74 510.67,297.99 511.17,301.19 511.67,304.33 512.17,307.40 512.67,310.38 513.17,313.26 513.67,316.02 514.17,318.65 514.67,321.12 515.17,323.43 515.67,325.57 516.17,327.51 516.67,329.26 517.17,330.79 517.67,332.11 518.17,333.21 518.67,334.08 519.17,334.73 519.67,335.15 520.17,335.36 520.67,335.35 521.16,335.13 521.66,334.72 522.16,334.12 522.66,333.36 523.16,332.43 523.66,331.37 524.16,330.18 524.66,328.88 525.16,327.49 525.66,326.03 526.16,324.51 526.66,322.94 527.16,321.35 527.66,319.74 528.16,318.14 528.66,316.56 529.16,315.00 529.66,313.48 530.16,312.01 530.66,310.60 531.16,309.26 531.66,307.99 532.16,306.81 532.66,305.72 533.16,304.72 533.66,303.82 534.16,303.03 534.66,302.34 535.16,301.77 535.66,301.31 536.16,300.96 536.66,300.74 537.16,300.63 537.66,300.65 538.16,300.79 538.66,301.05 539.16,301.44 539.66,301.95 540.16,302.59 540.66,303.35 541.16,304.24 541.66,305.26 542.16,306.40 542.66,307.66 543.16,309.05 543.66,310.55 544.16,312.18 544.66,313.93 545.16,315.79 545.66,317.76 546.16,319.85 546.66,322.04 547.16,324.34 547.66,326.74 548.16,329.23 548.66,331.82 549.16,334.49 549.66,337.24 550.15,340.06 550.65,342.96 551.15,345.91 551.65,348.92 552.15,351.97 552.65,355.06 553.15,358.18 553.65,361.33 554.15,364.50 554.65,367.68 555.15,370.86 555.65,374.04 556.15,377.21 556.65,380.37 557.15,383.52 557.65,386.64 558.15,389.73 558.65,392.80 559.15,395.83 559.65,398.83 560.15,401.79 560.65,404.71 561.15,407.59 561.65,410.42 562.15,413.19 562.65,415.92 563.15,418.57 563.65,421.16 564.15,423.67 564.65,426.10 565.15,428.43 565.65,430.65 566.15,432.75 566.65,434.72 567.15,436.54 567.65,438.20 568.15,439.69 568.65,440.99 569.15,442.08 569.65,442.96 570.15,443.61 570.65,444.03 571.15,444.21 571.65,444.13 572.15,443.81 572.65,443.23 573.15,442.41 573.65,441.34 574.15,440.04 574.65,438.51 575.15,436.77 575.65,434.83 576.15,432.71 576.65,430.43 577.15,428.00 577.65,425.45 578.15,422.81 578.64,420.08 579.14,417.30 579.64,414.48 580.14,411.64 580.64,408.80 581.14,405.99 581.64,403.21 582.14,400.49 582.64,397.84 583.14,395.27 583.64,392.80 584.14,390.44 584.64,388.19 585.14,386.07 585.64,384.09 586.14,382.24 586.64,380.54 587.14,378.99 587.64,377.59 588.14,376.34 588.64,375.25 589.14,374.32 589.64,373.54 590.14,372.91 590.64,372.44 591.14,372.11 591.64,371.94 592.14,371.90 592.64,372.01 593.14,372.24 593.64,372.60 594.14,373.09 594.64,373.68 595.14,374.39 595.64,375.19 596.14,376.08 596.64,377.06 597.14,378.11 597.64,379.23 598.14,380.41 598.64,381.65 599.14,382.92 599.64,384.24 600.14,385.59 600.64,386.96 601.14,388.36 601.64,389.78 602.14,391.22 602.64,392.67 603.14,394.13 603.64,395.61 604.14,397.11 604.64,398.63 605.14,400.17 605.64,401.74 606.14,403.34 606.64,404.97 607.14,406.65 607.63,408.37 608.13,410.14 608.63,411.97 609.13,413.86 609.63,415.81 610.13,417.82 610.63,419.90 611.13,422.04 611.63,424.25 612.13,426.51 612.63,428.83 613.13,431.19 613.63,433.59 614.13,436.02 614.63,438.47 615.13,440.92 615.63,443.35 616.13,445.77 616.63,448.13 617.13,450.44 617.63,452.67 618.13,454.80 618.63,456.81 619.13,458.69 619.63,460.43 620.13,461.99 620.63,463.39 621.13,464.59 621.63,465.59 622.13,466.39 622.63,466.98 623.13,467.36 623.63,467.53 624.13,467.50 624.63,467.27 625.13,466.85 625.63,466.25 626.13,465.48 626.63,464.57 627.13,463.52 627.63,462.35 628.13,461.07 628.63,459.71 629.13,458.28 629.63,456.78 630.13,455.25 630.63,453.68 631.13,452.09 631.63,450.49 632.13,448.87 632.63,447.26 633.13,445.64 633.63,444.02 634.13,442.39 634.63,440.76 635.13,439.11 635.63,437.43 636.12,435.73 636.62,433.98 637.12,432.17 637.62,430.30 638.12,428.35 638.62,426.30 639.12,424.15 639.62,421.88 640.12,419.49 640.62,416.96 641.12,414.29 641.62,411.47 642.12,408.49 642.62,405.36 643.12,402.08 643.62,398.64 644.12,395.05 644.62,391.33 645.12,387.46 645.62,383.48 646.12,379.38 646.62,375.17 647.12,370.88 647.62,366.51 648.12,362.08 648.62,357.60 649.12,353.09 649.62,348.55 650.12,344.01 650.62,339.47 651.12,334.94 651.62,330.44 652.12,325.98 652.62,321.56 653.12,317.19 653.62,312.88 654.12,308.65 654.62,304.48 655.12,300.39 655.62,296.38 656.12,292.45 656.62,288.61 657.12,284.86 657.62,281.20 658.12,277.63 658.62,274.15 659.12,270.76 659.62,267.46 660.12,264.26 660.62,261.14 661.12,258.10 661.62,255.16 662.12,252.30 662.62,249.52 663.12,246.82 663.62,244.20 664.12,241.66 664.62,239.20 665.11,236.80 665.61,234.48 666.11,232.23 666.61,230.04 667.11,227.92 667.61,225.87 668.11,223.87 668.61,221.94 669.11,220.06 669.61,218.23 670.11,216.46 670.61,214.74 671.11,213.07 671.61,211.45 672.11,209.88 672.61,208.35 673.11,206.87 673.61,205.43 674.11,204.02 674.61,202.66 675.11,201.34 675.61,200.05 676.11,198.80 676.61,197.58 677.11,196.40 677.61,195.24 678.11,194.12 678.61,193.03 679.11,191.97 679.61,190.93 680.11,189.92 680.61,188.94 681.11,187.98 681.61,187.05 682.11,186.14 682.61,185.26 683.11,184.39 683.61,183.55 684.11,182.73 684.61,181.93 685.11,181.14 685.61,180.38 686.11,179.63 686.61,178.91 687.11,178.20 687.61,177.50 688.11,176.83 688.61,176.16 689.11,175.52 689.61,174.88 690.11,174.27 690.61,173.66 691.11,173.07 691.61,172.49 692.11,171.93 692.61,171.37 693.11,170.83 693.61,170.30 694.10,169.78 694.60,169.28 695.10,168.78 695.60,168.29 696.10,167.82 696.60,167.35 697.10,166.89 697.60,166.45 698.10,166.01 698.60,165.58 699.10,165.16 699.60,164.74 700.10,164.34 700.60,163.94 701.10,163.55 701.60,163.17 702.10,162.79 702.60,162.42 703.10,162.06 703.60,161.71 704.10,161.36 704.60,161.02 705.10,160.68 705.60,160.36 706.10,160.03 706.60,159.72 707.10,159.40 707.60,159.10 708.10,158.80 708.60,158.50 709.10,158.21 709.60,157.93 710.10,157.64 710.60,157.37 711.10,157.10 711.60,156.83 712.10,156.57 712.60,156.31 713.10,156.06 713.60,155.81 714.10,155.56 714.60,155.32 715.10,155.09 715.60,154.85 716.10,154.62 716.60,154.40 717.10,154.17 717.60,153.95 718.10,153.74 718.60,153.53 719.10,153.32 719.60,153.11 720.10,152.91 720.60,152.71 721.10,152.51 721.60,152.32 722.10,152.13 722.59,151.94 723.09,151.76 723.59,151.57 724.09,151.39 724.59,151.22 725.09,151.04 725.59,150.87 726.09,150.70 726.59,150.53 727.09,150.37 727.59,150.21 728.09,150.05 728.59,149.89 729.09,149.73 729.59,149.58 730.09,149.43 730.59,149.28 731.09,149.13 731.59,148.98 732.09,148.84 732.59,148.70 733.09,148.56 733.59,148.42 734.09,148.28 734.59,148.15 735.09,148.02 735.59,147.89 736.09,147.76 736.59,147.63 737.09,147.51 737.59,147.38 738.09,147.26 738.59,147.14 739.09,147.02 739.59,146.90 740.09,146.78 740.59,146.67 741.09,146.55 741.59,146.44 742.09,146.33 742.59,146.22 743.09,146.11 743.59,146.01 744.09,145.90 744.59,145.80 745.09,145.69 745.59,145.59 746.09,145.49 746.59,145.39 747.09,145.29 747.59,145.20 748.09,145.10 748.59,145.00 749.09,144.91 749.59,144.82 750.09,144.73 750.59,144.63 751.09,144.55 751.58,144.46 752.08,144.37 752.58,144.28 753.08,144.20 753.58,144.11 754.08,144.03 754.58,143.94 755.08,143.86 755.58,143.78 756.08,143.70 756.58,143.62 757.08,143.54 757.58,143.47 758.08,143.39 758.58,143.31 759.08,143.24 759.58,143.16 760.08,143.09 760.58,143.02 761.08,142.94 761.58,142.87 762.08,142.80 762.58,142.73 763.08,142.66 763.58,142.60 764.08,142.53 764.58,142.46 765.08,142.39 765.58,142.33 766.08,142.26 766.58,142.20 767.08,142.13 767.58,142.07 768.08,142.01 768.58,141.95 769.08,141.89 769.58,141.83 770.08,141.77 770.58,141.71 771.08,141.65 771.58,141.59 772.08,141.53 772.58,141.47 773.08,141.42 773.58,141.36 774.08,141.31 774.58,141.25 775.08,141.20 775.58,141.14 776.08,141.09 776.58,141.03 777.08,140.98 777.58,140.93 778.08,140.88 778.58,140.83 779.08,140.78 779.58,140.73 780.07,140.68 780.57,140.63 781.07,140.58 781.57,140.53 782.07,140.48 782.57,140.44 783.07,140.39 783.57,140.34 784.07,140.30 784.57,140.25 785.07,140.20 785.57,140.16 786.07,140.11 786.57,140.07 787.07,140.03 787.57,139.98 788.07,139.94 788.57,139.90 789.07,139.85 789.57,139.81 790.07,139.77 790.57,139.73 791.07,139.69 791.57,139.65 792.07,139.61 792.57,139.57 793.07,139.53 793.57,139.49 794.07,139.45 794.57,139.41 795.07,139.37 795.57,139.34 796.07,139.30 796.57,139.26 797.07,139.22 797.57,139.19 798.07,139.15 798.57,139.12 799.07,139.08 799.57,139.04 800.07,139.01 800.57,138.97 801.07,138.94 801.57,138.90 802.07,138.87 802.57,138.84 803.07,138.80 803.57,138.77 804.07,138.74 804.57,138.70 805.07,138.67 805.57,138.64 806.07,138.61 806.57,138.58 807.07,138.54 807.57,138.51 808.07,138.48 808.57,138.45 809.06,138.42 809.56,138.39 810.06,138.36 810.56,138.33 811.06,138.30 811.56,138.27 812.06,138.24 812.56,138.21 813.06,138.18 813.56,138.16 814.06,138.13 814.56,138.10 815.06,138.07 815.56,138.04 816.06,138.02 816.56,137.99 817.06,137.96 817.56,137.93 818.06,137.91 818.56,137.88 819.06,137.86 819.56,137.83 820.06,137.80 820.56,137.78 821.06,137.75 821.56,137.73 822.06,137.70 822.56,137.68 823.06,137.65 823.56,137.63 824.06,137.60 824.56,137.58 825.06,137.55 825.56,137.53 826.06,137.51 826.56,137.48 827.06,137.46 827.56,137.44 828.06,137.41 828.56,137.39 829.06,137.37 829.56,137.34 830.06,137.32 830.56,137.30 831.06,137.28 831.56,137.26 832.06,137.23 832.56,137.21 833.06,137.19 833.56,137.17 834.06,137.15 834.56,137.13 835.06,137.11 835.56,137.08 836.06,137.06 836.56,137.04 837.06,137.02 837.56,137.00 838.05,136.98 838.55,136.96 839.05,136.94 839.55,136.92 840.05,136.90 840.55,136.88 841.05,136.86 841.55,136.85 842.05,136.83 842.55,136.81 843.05,136.79 843.55,136.77 844.05,136.75 844.55,136.73 845.05,136.71 845.55,136.70 846.05,136.68 846.55,136.66 847.05,136.64 847.55,136.62 848.05,136.61 848.55,136.59 849.05,136.57 849.55,136.55 850.05,136.54 850.55,136.52 851.05,136.50 851.55,136.49 852.05,136.47 852.55,136.45 853.05,136.43 853.55,136.42 854.05,136.40 854.55,136.39 855.05,136.37 855.55,136.35 856.05,136.34 856.55,136.32 857.05,136.31 857.55,136.29 858.05,136.27 858.55,136.26 859.05,136.24 859.55,136.23 860.05,136.21 860.55,136.20 861.05,136.18 861.55,136.17 862.05,136.15 862.55,136.14 863.05,136.12 863.55,136.11 864.05,136.09 864.55,136.08 865.05,136.07 865.55,136.05 866.05,136.04 866.54,136.02 867.04,136.01 867.54,135.99 868.04,135.98 868.54,135.97 869.04,135.95 869.54,135.94 870.04,135.93 870.54,135.91 871.04,135.90 871.54,135.89 872.04,135.87 872.54,135.86 873.04,135.85 873.54,135.83 874.04,135.82 874.54,135.81 875.04,135.80 875.54,135.78 876.04,135.77 876.54,135.76 877.04,135.74 877.54,135.73 878.04,135.72 878.54,135.71 879.04,135.70 879.54,135.68 880.04,135.67 880.54,135.66 881.04,135.65 881.54,135.64 882.04,135.62 882.54,135.61 883.04,135.60 883.54,135.59 884.04,135.58 884.54,135.57 885.04,135.55 885.54,135.54 886.04,135.53 886.54,135.52 887.04,135.51 887.54,135.50 888.04,135.49 888.54,135.48 889.04,135.47 889.54,135.45 890.04,135.44 890.54,135.43 891.04,135.42 891.54,135.41 892.04,135.40 892.54,135.39 893.04,135.38 893.54,135.37 894.04,135.36 894.54,135.35 895.04,135.34 895.53,135.33 896.03,135.32 896.53,135.31 897.03,135.30 897.53,135.29 898.03,135.28 898.53,135.27 899.03,135.26 899.53,135.25 900.03,135.24 900.53,135.23 901.03,135.22 901.53,135.21 902.03,135.20 902.53,135.19 903.03,135.18 903.53,135.17 904.03,135.16 904.53,135.15 905.03,135.14 905.53,135.14 906.03,135.13 906.53,135.12 907.03,135.11 907.53,135.10 908.03,135.09 908.53,135.08 909.03,135.07 909.53,135.06 910.03,135.06 910.53,135.05 911.03,135.04 911.53,135.03 912.03,135.02 912.53,135.01 913.03,135.00 913.53,135.00 914.03,134.99 914.53,134.98 915.03,134.97 915.53,134.96 916.03,134.95 916.53,134.95 917.03,134.94 917.53,134.93 918.03,134.92 918.53,134.91 919.03,134.90 919.53,134.90 920.03,134.89 920.53,134.88 921.03,134.87 921.53,134.87 922.03,134.86 922.53,134.85 923.03,134.84 923.53,134.83 924.02,134.83 924.52,134.82 925.02,134.81 925.52,134.80 926.02,134.80 926.52,134.79 927.02,134.78 927.52,134.77 928.02,134.77 928.52,134.76 929.02,134.75 929.52,134.75 930.02,134.74 930.52,134.73 931.02,134.72 931.52,134.72 932.02,134.71 932.52,134.70 933.02,134.70 933.52,134.69 934.02,134.68 934.52,134.68 935.02,134.67 935.52,134.66 936.02,134.65 936.52,134.65 937.02,134.64 937.52,134.63 938.02,134.63 938.52,134.62 939.02,134.61 939.52,134.61 940.02,134.60 940.52,134.59 941.02,134.59 941.52,134.58 942.02,134.58 942.52,134.57 943.02,134.56 943.52,134.56 944.02,134.55 944.52,134.54 945.02,134.54 945.52,134.53 946.02,134.53 946.52,134.52 947.02,134.51 947.52,134.51 948.02,134.50 948.52,134.49 949.02,134.49 949.52,134.48 950.02,134.48 950.52,134.47 951.02,134.46 951.52,134.46 952.02,134.45 952.52,134.45 953.01,134.44 953.51,134.44 954.01,134.43 954.51,134.42 955.01,134.42 955.51,134.41 956.01,134.41 956.51,134.40 957.01,134.40 957.51,134.39 958.01,134.38 958.51,134.38 959.01,134.37 959.51,134.37 960.01,134.36 960.51,134.36 961.01,134.35 961.51,134.35 962.01,134.34 962.51,134.34 963.01,134.33 963.51,134.32 964.01,134.32 964.51,134.31 965.01,134.31 965.51,134.30 966.01,134.30 966.51,134.29 967.01,134.29 967.51,134.28 968.01,134.28 968.51,134.27 969.01,134.27 969.51,134.26 970.01,134.26 970.51,134.25 971.01,134.25 971.51,134.24 972.01,134.24 972.51,134.23 973.01,134.23 973.51,134.22 974.01,134.22 974.51,134.21 975.01,134.21 975.51,134.20 976.01,134.20 976.51,134.19 977.01,134.19 977.51,134.19 978.01,134.18 978.51,134.18 979.01,134.17 979.51,134.17 980.01,134.16 980.51,134.16 981.01,134.15 981.51,134.15 982.00,134.14 982.50,134.14 983.00,134.14 983.50,134.13 984.00,134.13 984.50,134.12 985.00,134.12 985.50,134.11 986.00,134.11 986.50,134.10 987.00,134.10 987.50,134.10 988.00,134.09 988.50,134.09 989.00,134.08 989.50,134.08 990.00,134.07 990.50,134.07 991.00,134.07 991.50,134.06 992.00,134.06 992.50,134.05 993.00,134.05 993.50,134.04 994.00,134.04 994.50,134.04 995.00,134.03 995.50,134.03 996.00,134.02" fill="none" stroke="#f00000" stroke-width="2.7" stroke-linejoin="round"/>
<path d="M132.3,3.6 V533.3 H996" fill="none" stroke="#1e1e1e" stroke-width="2.2" stroke-linejoin="miter"/><path d="M132.3,31.7 h8.6" stroke="#1e1e1e" stroke-width="2.2"/><path d="M132.3,115.3 h8.6" stroke="#1e1e1e" stroke-width="2.2"/><path d="M132.3,198.9 h8.6" stroke="#1e1e1e" stroke-width="2.2"/><path d="M132.3,282.5 h8.6" stroke="#1e1e1e" stroke-width="2.2"/><path d="M132.3,366.1 h8.6" stroke="#1e1e1e" stroke-width="2.2"/><path d="M132.3,449.7 h8.6" stroke="#1e1e1e" stroke-width="2.2"/><path d="M132.3,533.3 h8.6" stroke="#1e1e1e" stroke-width="2.2"/><path d="M153.6,533.3 v-8.6" stroke="#1e1e1e" stroke-width="2.2"/><path d="M254.3,533.3 v-8.6" stroke="#1e1e1e" stroke-width="2.2"/><path d="M355.0,533.3 v-8.6" stroke="#1e1e1e" stroke-width="2.2"/><path d="M455.7,533.3 v-8.6" stroke="#1e1e1e" stroke-width="2.2"/><path d="M556.4,533.3 v-8.6" stroke="#1e1e1e" stroke-width="2.2"/><path d="M657.1,533.3 v-8.6" stroke="#1e1e1e" stroke-width="2.2"/><path d="M757.8,533.3 v-8.6" stroke="#1e1e1e" stroke-width="2.2"/><path d="M858.5,533.3 v-8.6" stroke="#1e1e1e" stroke-width="2.2"/><path d="M959.2,533.3 v-8.6" stroke="#1e1e1e" stroke-width="2.2"/>
<text x="120.1" y="44.5" text-anchor="end" font-size="31">1.425</text><text x="120.1" y="128.1" text-anchor="end" font-size="31">1.42</text><text x="120.1" y="211.7" text-anchor="end" font-size="31">1.415</text><text x="120.1" y="295.3" text-anchor="end" font-size="31">1.41</text><text x="120.1" y="378.9" text-anchor="end" font-size="31">1.405</text><text x="120.1" y="462.5" text-anchor="end" font-size="31">1.4</text><text x="120.1" y="546.1" text-anchor="end" font-size="31">1.395</text><text x="153.6" y="576.6" text-anchor="middle" font-size="31">-4</text><text x="254.3" y="576.6" text-anchor="middle" font-size="31">-3</text><text x="355.0" y="576.6" text-anchor="middle" font-size="31">-2</text><text x="455.7" y="576.6" text-anchor="middle" font-size="31">-1</text><text x="556.4" y="576.6" text-anchor="middle" font-size="31">0</text><text x="657.1" y="576.6" text-anchor="middle" font-size="31">1</text><text x="757.8" y="576.6" text-anchor="middle" font-size="31">2</text><text x="858.5" y="576.6" text-anchor="middle" font-size="31">3</text><text x="959.2" y="576.6" text-anchor="middle" font-size="31">4</text>
<text x="565.7" y="617" text-anchor="middle" font-size="31.8">velocity (mm/s)</text>
<text transform="translate(25.7,199.2) rotate(-90)" text-anchor="middle" font-size="31.8">counts</text>
</svg>
</body></html>
